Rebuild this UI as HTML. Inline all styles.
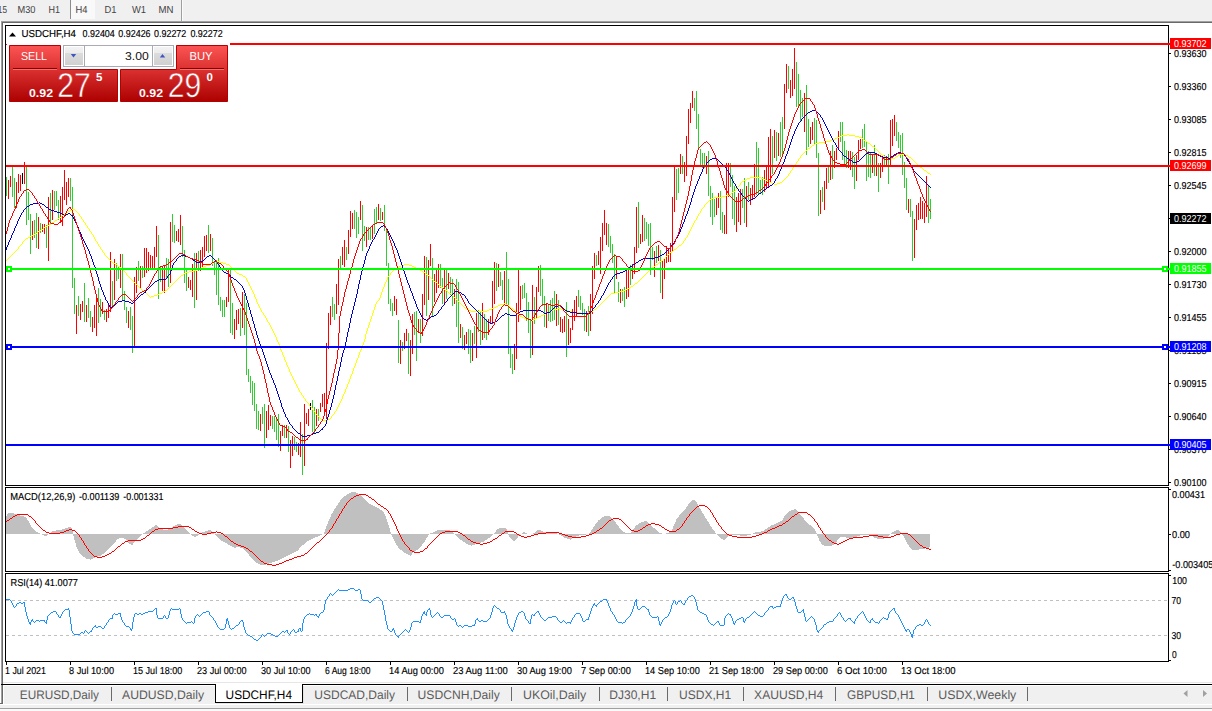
<!DOCTYPE html>
<html><head><meta charset="utf-8"><title>USDCHF,H4</title>
<style>html,body{margin:0;padding:0;background:#fff;overflow:hidden}svg text{font-family:'Liberation Sans', Arial, sans-serif;white-space:pre}</style>
</head><body>
<svg width="1212" height="711" viewBox="0 0 1212 711" font-family="'Liberation Sans', Arial, sans-serif" text-rendering="geometricPrecision" style="display:block">
<defs>
<linearGradient id="gTop" gradientUnits="userSpaceOnUse" x1="0" y1="45" x2="0" y2="70"><stop offset="0" stop-color="#fb5050"/><stop offset="1" stop-color="#e23232"/></linearGradient>
<linearGradient id="gBot" gradientUnits="userSpaceOnUse" x1="0" y1="69" x2="0" y2="102"><stop offset="0" stop-color="#dd2c2c"/><stop offset="1" stop-color="#ad0000"/></linearGradient>
<linearGradient id="gP" gradientUnits="userSpaceOnUse" x1="0" y1="45" x2="0" y2="102"><stop offset="0" stop-color="#fd5555"/><stop offset="1" stop-color="#ac0000"/></linearGradient>
<linearGradient id="gBtn" x1="0" y1="0" x2="0" y2="1"><stop offset="0" stop-color="#f3f3f3"/><stop offset="0.32" stop-color="#ececec"/><stop offset="0.34" stop-color="#dcdcdc"/><stop offset="1" stop-color="#d0d0d0"/></linearGradient>
<clipPath id="cMain"><rect x="6" y="26" width="1162" height="459"/></clipPath>
</defs>
<rect x="0" y="0" width="1212" height="711" fill="#fff" />
<rect x="0" y="0" width="1212" height="21" fill="#f0f0f0" />
<rect x="70" y="0" width="25" height="19" fill="#f9f9f9" />
<rect x="70" y="0" width="1" height="19" fill="#8c8c8c" />
<rect x="181" y="0" width="1" height="21" fill="#a0a0a0" />
<rect x="182" y="0" width="1" height="21" fill="#fbfbfb" />
<text x="-9" y="12.9" font-size="10.2" fill="#444" textLength="16" lengthAdjust="spacingAndGlyphs" >M15</text>
<text x="17.5" y="12.9" font-size="10.2" fill="#444" textLength="18.0" lengthAdjust="spacingAndGlyphs" >M30</text>
<text x="48.5" y="12.9" font-size="10.2" fill="#444" textLength="11.5" lengthAdjust="spacingAndGlyphs" >H1</text>
<text x="75.5" y="12.9" font-size="10.2" fill="#444" textLength="12.0" lengthAdjust="spacingAndGlyphs" >H4</text>
<text x="104.5" y="12.9" font-size="10.2" fill="#444" textLength="12.0" lengthAdjust="spacingAndGlyphs" >D1</text>
<text x="132" y="12.9" font-size="10.2" fill="#444" textLength="14" lengthAdjust="spacingAndGlyphs" >W1</text>
<text x="158.5" y="12.9" font-size="10.2" fill="#444" textLength="15.0" lengthAdjust="spacingAndGlyphs" >MN</text>
<rect x="1" y="21" width="1211" height="1" fill="#a0a0a0" />
<rect x="2" y="22" width="1210" height="1" fill="#696969" />
<rect x="1" y="21" width="1" height="682" fill="#a0a0a0" />
<rect x="2" y="22" width="1" height="681" fill="#696969" />
<rect x="5.5" y="25.5" width="1163" height="460" fill="none" stroke="#000" stroke-width="1" shape-rendering="crispEdges"/>
<rect x="5.5" y="487.5" width="1163" height="84" fill="none" stroke="#000" stroke-width="1" shape-rendering="crispEdges"/>
<rect x="5.5" y="573.5" width="1163" height="88" fill="none" stroke="#000" stroke-width="1" shape-rendering="crispEdges"/>
<g clip-path="url(#cMain)">
<path d="M6 177h1v19h-1zM12 165h1v32h-1zM14 178h1v30h-1zM26 167h1v58h-1zM28 192h1v28h-1zM30 214h1v40h-1zM34 220h1v18h-1zM36 213h1v35h-1zM40 223h1v10h-1zM46 225h1v23h-1zM50 193h1v32h-1zM54 191h1v19h-1zM56 191h1v15h-1zM58 200h1v20h-1zM70 178h1v23h-1zM72 187h1v101h-1zM74 278h1v36h-1zM78 296h1v20h-1zM84 283h1v39h-1zM88 298h1v20h-1zM90 311h1v16h-1zM98 288h1v35h-1zM100 299h1v18h-1zM104 310h1v10h-1zM112 281h1v27h-1zM116 263h1v18h-1zM118 266h1v13h-1zM122 254h1v46h-1zM124 291h1v19h-1zM126 307h1v16h-1zM130 307h1v23h-1zM132 316h1v37h-1zM138 261h1v20h-1zM142 266h1v12h-1zM158 235h1v64h-1zM160 266h1v16h-1zM166 258h1v21h-1zM168 259h1v28h-1zM172 214h1v28h-1zM174 225h1v18h-1zM182 226h1v31h-1zM184 250h1v33h-1zM186 268h1v23h-1zM194 253h1v55h-1zM198 251h1v20h-1zM208 225h1v28h-1zM212 238h1v28h-1zM214 262h1v13h-1zM216 260h1v35h-1zM218 258h1v47h-1zM220 297h1v14h-1zM222 300h1v17h-1zM224 300h1v17h-1zM230 269h1v64h-1zM232 303h1v32h-1zM240 308h1v28h-1zM244 294h1v41h-1zM246 303h1v72h-1zM248 369h1v13h-1zM250 376h1v17h-1zM252 381h1v24h-1zM254 383h1v28h-1zM256 404h1v25h-1zM258 411h1v19h-1zM262 407h1v17h-1zM264 404h1v44h-1zM272 416h1v13h-1zM274 416h1v16h-1zM276 418h1v22h-1zM278 414h1v33h-1zM284 425h1v13h-1zM288 426h1v26h-1zM294 437h1v13h-1zM296 442h1v10h-1zM302 434h1v41h-1zM312 400h1v32h-1zM314 407h1v27h-1zM318 409h1v12h-1zM332 297h1v20h-1zM334 304h1v16h-1zM340 256h1v12h-1zM346 247h1v13h-1zM354 210h1v19h-1zM356 212h1v26h-1zM358 217h1v17h-1zM362 205h1v46h-1zM364 226h1v15h-1zM368 227h1v13h-1zM370 228h1v12h-1zM374 209h1v25h-1zM376 207h1v16h-1zM380 208h1v13h-1zM384 205h1v26h-1zM386 228h1v38h-1zM388 263h1v41h-1zM390 299h1v12h-1zM392 303h1v13h-1zM398 320h1v43h-1zM402 342h1v9h-1zM408 333h1v41h-1zM414 312h1v23h-1zM416 311h1v50h-1zM420 319h1v24h-1zM426 257h1v59h-1zM432 258h1v58h-1zM440 264h1v24h-1zM442 278h1v26h-1zM446 269h1v30h-1zM450 277h1v18h-1zM452 279h1v27h-1zM456 279h1v48h-1zM458 282h1v61h-1zM462 327h1v22h-1zM468 329h1v25h-1zM470 330h1v33h-1zM474 326h1v18h-1zM478 310h1v22h-1zM480 311h1v34h-1zM484 314h1v24h-1zM486 319h1v21h-1zM496 263h1v28h-1zM500 272h1v14h-1zM502 280h1v20h-1zM506 252h1v53h-1zM508 279h1v75h-1zM510 347h1v21h-1zM512 354h1v20h-1zM522 285h1v14h-1zM524 283h1v15h-1zM526 293h1v28h-1zM528 302h1v31h-1zM530 319h1v39h-1zM534 297h1v27h-1zM540 265h1v31h-1zM542 279h1v27h-1zM544 296h1v31h-1zM548 305h1v16h-1zM550 300h1v22h-1zM552 298h1v23h-1zM554 291h1v29h-1zM558 300h1v25h-1zM566 302h1v55h-1zM578 290h1v17h-1zM580 296h1v14h-1zM582 303h1v12h-1zM584 309h1v22h-1zM588 306h1v30h-1zM596 255h1v11h-1zM608 224h1v23h-1zM610 236h1v17h-1zM612 244h1v19h-1zM614 254h1v40h-1zM618 282h1v20h-1zM622 289h1v12h-1zM624 287h1v20h-1zM630 265h1v20h-1zM638 202h1v46h-1zM644 218h1v23h-1zM646 222h1v17h-1zM648 224h1v22h-1zM650 223h1v52h-1zM652 247h1v13h-1zM656 246h1v17h-1zM660 250h1v43h-1zM676 169h1v31h-1zM678 168h1v25h-1zM682 156h1v18h-1zM694 98h1v13h-1zM696 91h1v38h-1zM698 114h1v36h-1zM700 149h1v17h-1zM702 153h1v15h-1zM704 153h1v15h-1zM708 151h1v45h-1zM710 186h1v31h-1zM712 193h1v32h-1zM714 199h1v18h-1zM720 191h1v39h-1zM722 212h1v21h-1zM730 163h1v24h-1zM732 175h1v44h-1zM734 186h1v39h-1zM742 189h1v19h-1zM744 178h1v45h-1zM748 182h1v18h-1zM756 142h1v53h-1zM758 148h1v47h-1zM760 180h1v14h-1zM762 177h1v18h-1zM772 136h1v38h-1zM776 132h1v29h-1zM780 122h1v35h-1zM782 117h1v37h-1zM788 66h1v23h-1zM796 62h1v45h-1zM798 74h1v34h-1zM800 90h1v31h-1zM802 98h1v19h-1zM806 85h1v70h-1zM808 119h1v28h-1zM814 118h1v26h-1zM816 120h1v38h-1zM818 153h1v63h-1zM822 187h1v15h-1zM828 167h1v16h-1zM832 145h1v34h-1zM840 122h1v20h-1zM842 122h1v38h-1zM844 141h1v26h-1zM846 150h1v18h-1zM852 152h1v25h-1zM854 157h1v32h-1zM862 129h1v19h-1zM864 124h1v23h-1zM866 141h1v40h-1zM868 151h1v26h-1zM870 153h1v25h-1zM874 145h1v31h-1zM878 163h1v29h-1zM884 155h1v11h-1zM888 154h1v30h-1zM896 122h1v19h-1zM898 132h1v16h-1zM900 135h1v23h-1zM902 133h1v42h-1zM904 162h1v26h-1zM906 178h1v32h-1zM910 199h1v18h-1zM912 211h1v50h-1zM928 185h1v38h-1zM930 199h1v20h-1z" fill="#32cd32" shape-rendering="crispEdges"/>
<path d="M8 180h1v19h-1zM10 176h1v11h-1zM16 182h1v26h-1zM18 174h1v19h-1zM20 175h1v16h-1zM24 162h1v22h-1zM32 221h1v19h-1zM38 217h1v32h-1zM42 224h1v8h-1zM44 224h1v10h-1zM48 197h1v64h-1zM52 190h1v30h-1zM60 196h1v26h-1zM62 187h1v39h-1zM64 170h1v30h-1zM66 182h1v23h-1zM68 178h1v19h-1zM76 305h1v29h-1zM80 304h1v16h-1zM82 301h1v11h-1zM86 305h1v17h-1zM92 317h1v15h-1zM94 305h1v23h-1zM96 297h1v39h-1zM102 302h1v12h-1zM106 309h1v13h-1zM108 305h1v13h-1zM110 252h1v60h-1zM114 259h1v41h-1zM120 254h1v34h-1zM128 311h1v17h-1zM134 277h1v71h-1zM136 267h1v26h-1zM140 266h1v22h-1zM144 248h1v29h-1zM146 248h1v25h-1zM148 252h1v19h-1zM150 255h1v15h-1zM152 256h1v14h-1zM154 247h1v21h-1zM156 226h1v31h-1zM162 267h1v24h-1zM164 265h1v28h-1zM170 222h1v61h-1zM176 231h1v10h-1zM178 229h1v13h-1zM180 215h1v30h-1zM188 277h1v11h-1zM190 280h1v10h-1zM192 264h1v33h-1zM196 253h1v47h-1zM200 250h1v21h-1zM202 247h1v20h-1zM204 236h1v21h-1zM206 235h1v16h-1zM210 234h1v17h-1zM226 297h1v10h-1zM228 268h1v34h-1zM234 319h1v20h-1zM236 310h1v20h-1zM238 309h1v15h-1zM242 292h1v36h-1zM260 414h1v17h-1zM266 411h1v27h-1zM268 405h1v25h-1zM270 415h1v11h-1zM280 431h1v20h-1zM282 425h1v11h-1zM286 425h1v13h-1zM290 440h1v28h-1zM292 436h1v20h-1zM298 443h1v12h-1zM300 422h1v35h-1zM304 404h1v62h-1zM306 413h1v11h-1zM308 409h1v17h-1zM316 409h1v17h-1zM320 403h1v9h-1zM322 394h1v13h-1zM324 393h1v21h-1zM326 343h1v76h-1zM328 313h1v36h-1zM330 306h1v19h-1zM336 284h1v30h-1zM338 259h1v46h-1zM342 247h1v18h-1zM344 240h1v27h-1zM348 230h1v24h-1zM350 211h1v26h-1zM352 213h1v16h-1zM360 201h1v19h-1zM366 227h1v20h-1zM372 225h1v14h-1zM378 204h1v16h-1zM382 212h1v8h-1zM394 296h1v15h-1zM396 299h1v16h-1zM400 340h1v24h-1zM404 333h1v16h-1zM406 329h1v12h-1zM410 340h1v36h-1zM412 314h1v40h-1zM418 319h1v14h-1zM422 294h1v42h-1zM424 256h1v49h-1zM428 260h1v40h-1zM430 244h1v22h-1zM434 274h1v28h-1zM436 268h1v25h-1zM438 264h1v24h-1zM444 269h1v35h-1zM448 273h1v16h-1zM454 289h1v15h-1zM460 324h1v14h-1zM464 335h1v15h-1zM466 332h1v12h-1zM472 333h1v28h-1zM476 313h1v45h-1zM482 303h1v37h-1zM488 319h1v16h-1zM490 316h1v8h-1zM492 281h1v43h-1zM494 262h1v42h-1zM498 264h1v23h-1zM504 271h1v34h-1zM514 344h1v26h-1zM516 303h1v56h-1zM518 270h1v52h-1zM520 286h1v24h-1zM532 285h1v70h-1zM536 287h1v31h-1zM538 266h1v26h-1zM546 303h1v25h-1zM556 294h1v32h-1zM560 317h1v15h-1zM562 319h1v14h-1zM564 316h1v16h-1zM568 319h1v26h-1zM570 328h1v15h-1zM572 309h1v21h-1zM574 300h1v21h-1zM576 296h1v20h-1zM586 311h1v21h-1zM590 294h1v37h-1zM592 266h1v48h-1zM594 253h1v26h-1zM598 251h1v14h-1zM600 237h1v37h-1zM602 223h1v28h-1zM604 210h1v25h-1zM606 223h1v22h-1zM616 257h1v22h-1zM620 289h1v14h-1zM626 271h1v28h-1zM628 270h1v27h-1zM632 264h1v15h-1zM634 247h1v27h-1zM636 207h1v46h-1zM640 234h1v10h-1zM642 215h1v27h-1zM654 251h1v26h-1zM658 245h1v16h-1zM662 260h1v39h-1zM664 258h1v21h-1zM666 246h1v17h-1zM668 250h1v12h-1zM670 243h1v19h-1zM672 197h1v55h-1zM674 167h1v45h-1zM680 154h1v20h-1zM684 162h1v20h-1zM686 136h1v40h-1zM688 109h1v35h-1zM690 103h1v20h-1zM692 91h1v17h-1zM706 156h1v18h-1zM716 197h1v18h-1zM718 193h1v15h-1zM724 215h1v19h-1zM726 163h1v71h-1zM728 163h1v34h-1zM736 197h1v35h-1zM738 193h1v29h-1zM740 189h1v36h-1zM746 186h1v41h-1zM750 188h1v17h-1zM752 185h1v14h-1zM754 164h1v33h-1zM764 170h1v22h-1zM766 165h1v24h-1zM768 137h1v50h-1zM770 129h1v53h-1zM774 130h1v28h-1zM778 133h1v23h-1zM784 84h1v45h-1zM786 64h1v29h-1zM790 80h1v18h-1zM792 69h1v27h-1zM794 48h1v41h-1zM804 93h1v39h-1zM810 127h1v17h-1zM812 122h1v18h-1zM820 190h1v24h-1zM824 181h1v29h-1zM826 168h1v21h-1zM830 151h1v29h-1zM834 151h1v17h-1zM836 148h1v12h-1zM838 131h1v19h-1zM848 151h1v17h-1zM850 151h1v19h-1zM856 155h1v26h-1zM858 140h1v20h-1zM860 139h1v10h-1zM872 154h1v19h-1zM876 153h1v23h-1zM880 163h1v15h-1zM882 156h1v16h-1zM886 156h1v11h-1zM890 120h1v46h-1zM892 119h1v27h-1zM894 115h1v21h-1zM908 199h1v14h-1zM914 219h1v39h-1zM916 205h1v25h-1zM918 203h1v17h-1zM920 197h1v22h-1zM922 201h1v18h-1zM924 203h1v20h-1zM926 176h1v41h-1z" fill="#ff0000" shape-rendering="crispEdges"/>
<path d="M22 173h1v11h-1zM310 403h1v7h-1z" fill="#000000" shape-rendering="crispEdges"/>
<path d="M6 260h1v1h-1zM7 259h1v1h-1zM8 258h1v1h-1zM9 257h1v1h-1zM10 256h1v1h-1zM11 255h1v1h-1zM12 254h1v1h-1zM13 253h1v1h-1zM14 252h1v1h-1zM15 251h1v1h-1zM16 250h1v1h-1zM17 249h1v1h-1zM18 247h1v2h-1zM19 246h1v1h-1zM20 245h1v1h-1zM21 244h1v1h-1zM22 242h1v2h-1zM23 241h1v1h-1zM24 240h1v1h-1zM25 239h1v1h-1zM26 238h1v1h-1zM27 238h1v1h-1zM28 237h1v1h-1zM29 237h1v1h-1zM30 236h1v1h-1zM31 236h1v1h-1zM32 235h1v1h-1zM33 235h1v1h-1zM34 234h1v1h-1zM35 233h1v1h-1zM36 233h1v1h-1zM37 232h1v1h-1zM38 231h1v1h-1zM39 231h1v1h-1zM40 230h1v1h-1zM41 229h1v1h-1zM42 229h1v1h-1zM43 228h1v1h-1zM44 227h1v1h-1zM45 227h1v1h-1zM46 226h1v1h-1zM47 225h1v1h-1zM48 225h1v1h-1zM49 224h1v1h-1zM50 224h1v1h-1zM51 223h1v1h-1zM52 222h1v1h-1zM53 222h1v1h-1zM54 221h1v1h-1zM55 220h1v1h-1zM56 220h1v1h-1zM57 219h1v1h-1zM58 218h1v1h-1zM59 217h1v1h-1zM60 217h1v1h-1zM61 216h1v1h-1zM62 215h1v1h-1zM63 215h1v1h-1zM64 214h1v1h-1zM65 213h1v1h-1zM66 213h1v1h-1zM67 212h1v1h-1zM68 211h1v1h-1zM69 211h1v1h-1zM70 210h1v1h-1zM71 210h1v1h-1zM72 209h1v1h-1zM73 209h1v1h-1zM74 209h1v1h-1zM75 210h1v1h-1zM76 211h1v1h-1zM77 212h1v1h-1zM78 213h1v1h-1zM79 214h1v2h-1zM80 216h1v1h-1zM81 217h1v2h-1zM82 219h1v1h-1zM83 220h1v2h-1zM84 222h1v1h-1zM85 223h1v2h-1zM86 225h1v1h-1zM87 226h1v2h-1zM88 228h1v1h-1zM89 229h1v2h-1zM90 231h1v1h-1zM91 232h1v2h-1zM92 234h1v1h-1zM93 235h1v2h-1zM94 237h1v2h-1zM95 239h1v2h-1zM96 241h1v1h-1zM97 242h1v2h-1zM98 244h1v2h-1zM99 246h1v1h-1zM100 247h1v2h-1zM101 249h1v1h-1zM102 250h1v2h-1zM103 252h1v1h-1zM104 253h1v2h-1zM105 255h1v1h-1zM106 256h1v1h-1zM107 257h1v1h-1zM108 258h1v1h-1zM109 259h1v1h-1zM110 260h1v1h-1zM111 261h1v1h-1zM112 262h1v1h-1zM113 263h1v1h-1zM114 263h1v1h-1zM115 264h1v1h-1zM116 264h1v1h-1zM117 265h1v1h-1zM118 266h1v1h-1zM119 266h1v1h-1zM120 267h1v1h-1zM121 268h1v1h-1zM122 269h1v1h-1zM123 270h1v1h-1zM124 271h1v1h-1zM125 272h1v1h-1zM126 273h1v2h-1zM127 275h1v1h-1zM128 276h1v1h-1zM129 277h1v1h-1zM130 278h1v1h-1zM131 279h1v1h-1zM132 280h1v1h-1zM133 281h1v1h-1zM134 282h1v1h-1zM135 283h1v1h-1zM136 284h1v1h-1zM137 285h1v1h-1zM138 286h1v1h-1zM139 287h1v1h-1zM140 288h1v1h-1zM141 289h1v1h-1zM142 290h1v1h-1zM143 291h1v1h-1zM144 291h1v1h-1zM145 292h1v1h-1zM146 293h1v1h-1zM147 294h1v1h-1zM148 295h1v1h-1zM149 296h1v1h-1zM150 297h1v1h-1zM151 296h1v1h-1zM152 296h1v1h-1zM153 296h1v1h-1zM154 295h1v1h-1zM155 295h1v1h-1zM156 295h1v1h-1zM157 294h1v1h-1zM158 294h1v1h-1zM159 293h1v1h-1zM160 293h1v1h-1zM161 293h1v1h-1zM162 292h1v1h-1zM163 291h1v1h-1zM164 291h1v1h-1zM165 290h1v1h-1zM166 290h1v1h-1zM167 289h1v1h-1zM168 288h1v1h-1zM169 287h1v1h-1zM170 286h1v1h-1zM171 285h1v1h-1zM172 284h1v1h-1zM173 283h1v1h-1zM174 282h1v1h-1zM175 281h1v1h-1zM176 280h1v1h-1zM177 279h1v1h-1zM178 278h1v1h-1zM179 277h1v1h-1zM180 276h1v1h-1zM181 275h1v1h-1zM182 275h1v1h-1zM183 274h1v1h-1zM184 273h1v1h-1zM185 273h1v1h-1zM186 272h1v1h-1zM187 272h1v1h-1zM188 272h1v1h-1zM189 271h1v1h-1zM190 271h1v1h-1zM191 271h1v1h-1zM192 271h1v1h-1zM193 271h1v1h-1zM194 270h1v1h-1zM195 270h1v1h-1zM196 270h1v1h-1zM197 269h1v1h-1zM198 269h1v1h-1zM199 269h1v1h-1zM200 268h1v1h-1zM201 268h1v1h-1zM202 267h1v1h-1zM203 267h1v1h-1zM204 266h1v1h-1zM205 266h1v1h-1zM206 265h1v1h-1zM207 265h1v1h-1zM208 265h1v1h-1zM209 265h1v1h-1zM210 264h1v1h-1zM211 263h1v1h-1zM212 263h1v1h-1zM213 262h1v1h-1zM214 261h1v1h-1zM215 261h1v1h-1zM216 261h1v1h-1zM217 261h1v1h-1zM218 261h1v1h-1zM219 261h1v1h-1zM220 262h1v1h-1zM221 262h1v1h-1zM222 262h1v1h-1zM223 263h1v1h-1zM224 263h1v1h-1zM225 263h1v1h-1zM226 264h1v1h-1zM227 264h1v1h-1zM228 264h1v1h-1zM229 265h1v1h-1zM230 266h1v1h-1zM231 267h1v1h-1zM232 268h1v1h-1zM233 269h1v1h-1zM234 270h1v1h-1zM235 271h1v1h-1zM236 272h1v1h-1zM237 273h1v1h-1zM238 273h1v1h-1zM239 274h1v1h-1zM240 274h1v1h-1zM241 274h1v1h-1zM242 275h1v1h-1zM243 276h1v1h-1zM244 276h1v1h-1zM245 277h1v1h-1zM246 278h1v2h-1zM247 280h1v2h-1zM248 282h1v2h-1zM249 284h1v2h-1zM250 286h1v2h-1zM251 288h1v2h-1zM252 290h1v2h-1zM253 292h1v2h-1zM254 294h1v3h-1zM255 297h1v2h-1zM256 299h1v3h-1zM257 302h1v2h-1zM258 304h1v2h-1zM259 306h1v2h-1zM260 308h1v2h-1zM261 310h1v2h-1zM262 312h1v1h-1zM263 313h1v2h-1zM264 315h1v1h-1zM265 316h1v2h-1zM266 318h1v2h-1zM267 320h1v2h-1zM268 322h1v1h-1zM269 323h1v2h-1zM270 325h1v2h-1zM271 327h1v2h-1zM272 329h1v2h-1zM273 331h1v2h-1zM274 333h1v2h-1zM275 335h1v2h-1zM276 337h1v3h-1zM277 340h1v2h-1zM278 342h1v2h-1zM279 344h1v3h-1zM280 347h1v3h-1zM281 350h1v2h-1zM282 352h1v3h-1zM283 355h1v2h-1zM284 357h1v3h-1zM285 360h1v2h-1zM286 362h1v3h-1zM287 365h1v2h-1zM288 367h1v2h-1zM289 369h1v3h-1zM290 372h1v2h-1zM291 374h1v2h-1zM292 376h1v2h-1zM293 378h1v2h-1zM294 380h1v2h-1zM295 382h1v2h-1zM296 384h1v2h-1zM297 386h1v2h-1zM298 388h1v2h-1zM299 390h1v2h-1zM300 392h1v1h-1zM301 393h1v2h-1zM302 395h1v1h-1zM303 396h1v2h-1zM304 398h1v1h-1zM305 399h1v2h-1zM306 401h1v1h-1zM307 402h1v1h-1zM308 403h1v1h-1zM309 404h1v2h-1zM310 406h1v1h-1zM311 407h1v1h-1zM312 408h1v2h-1zM313 410h1v1h-1zM314 411h1v1h-1zM315 412h1v2h-1zM316 414h1v1h-1zM317 415h1v1h-1zM318 416h1v1h-1zM319 417h1v1h-1zM320 418h1v1h-1zM321 419h1v1h-1zM322 420h1v1h-1zM323 420h1v1h-1zM324 420h1v1h-1zM325 420h1v1h-1zM326 420h1v1h-1zM327 420h1v1h-1zM328 419h1v1h-1zM329 419h1v1h-1zM330 418h1v1h-1zM331 416h1v2h-1zM332 415h1v1h-1zM333 414h1v1h-1zM334 412h1v2h-1zM335 411h1v1h-1zM336 409h1v2h-1zM337 407h1v2h-1zM338 405h1v2h-1zM339 403h1v2h-1zM340 401h1v2h-1zM341 399h1v2h-1zM342 396h1v3h-1zM343 394h1v2h-1zM344 392h1v2h-1zM345 389h1v3h-1zM346 387h1v2h-1zM347 384h1v3h-1zM348 382h1v2h-1zM349 379h1v3h-1zM350 376h1v3h-1zM351 374h1v2h-1zM352 371h1v3h-1zM353 368h1v3h-1zM354 366h1v2h-1zM355 363h1v3h-1zM356 360h1v3h-1zM357 358h1v2h-1zM358 355h1v3h-1zM359 352h1v3h-1zM360 350h1v2h-1zM361 347h1v3h-1zM362 345h1v2h-1zM363 342h1v3h-1zM364 339h1v3h-1zM365 334h1v5h-1zM366 331h1v3h-1zM367 328h1v3h-1zM368 325h1v3h-1zM369 322h1v3h-1zM370 319h1v3h-1zM371 316h1v3h-1zM372 313h1v3h-1zM373 310h1v3h-1zM374 307h1v3h-1zM375 304h1v3h-1zM376 302h1v2h-1zM377 301h1v1h-1zM378 300h1v1h-1zM379 298h1v2h-1zM380 295h1v3h-1zM381 292h1v3h-1zM382 289h1v3h-1zM383 287h1v2h-1zM384 284h1v3h-1zM385 282h1v2h-1zM386 280h1v2h-1zM387 277h1v3h-1zM388 276h1v1h-1zM389 275h1v1h-1zM390 273h1v2h-1zM391 272h1v1h-1zM392 271h1v1h-1zM393 270h1v1h-1zM394 269h1v1h-1zM395 269h1v1h-1zM396 268h1v1h-1zM397 267h1v1h-1zM398 267h1v1h-1zM399 266h1v1h-1zM400 266h1v1h-1zM401 265h1v1h-1zM402 265h1v1h-1zM403 265h1v1h-1zM404 264h1v1h-1zM405 264h1v1h-1zM406 264h1v1h-1zM407 264h1v1h-1zM408 264h1v1h-1zM409 265h1v1h-1zM410 265h1v1h-1zM411 265h1v1h-1zM412 266h1v1h-1zM413 266h1v1h-1zM414 267h1v1h-1zM415 267h1v1h-1zM416 268h1v1h-1zM417 268h1v1h-1zM418 269h1v1h-1zM419 269h1v1h-1zM420 270h1v1h-1zM421 270h1v1h-1zM422 271h1v1h-1zM423 272h1v1h-1zM424 272h1v1h-1zM425 273h1v1h-1zM426 274h1v1h-1zM427 275h1v1h-1zM428 275h1v1h-1zM429 276h1v1h-1zM430 277h1v1h-1zM431 278h1v1h-1zM432 279h1v1h-1zM433 280h1v1h-1zM434 281h1v1h-1zM435 281h1v1h-1zM436 282h1v1h-1zM437 283h1v1h-1zM438 284h1v1h-1zM439 285h1v1h-1zM440 286h1v1h-1zM441 287h1v1h-1zM442 287h1v1h-1zM443 288h1v1h-1zM444 289h1v1h-1zM445 290h1v1h-1zM446 290h1v1h-1zM447 291h1v1h-1zM448 292h1v1h-1zM449 293h1v1h-1zM450 293h1v1h-1zM451 294h1v1h-1zM452 295h1v1h-1zM453 296h1v1h-1zM454 297h1v1h-1zM455 298h1v1h-1zM456 299h1v1h-1zM457 300h1v1h-1zM458 301h1v1h-1zM459 302h1v1h-1zM460 303h1v1h-1zM461 304h1v1h-1zM462 305h1v1h-1zM463 306h1v1h-1zM464 307h1v1h-1zM465 308h1v1h-1zM466 308h1v1h-1zM467 309h1v1h-1zM468 309h1v1h-1zM469 310h1v1h-1zM470 310h1v1h-1zM471 311h1v1h-1zM472 311h1v1h-1zM473 311h1v1h-1zM474 311h1v1h-1zM475 311h1v1h-1zM476 311h1v1h-1zM477 311h1v1h-1zM478 311h1v1h-1zM479 311h1v1h-1zM480 311h1v1h-1zM481 311h1v1h-1zM482 311h1v1h-1zM483 311h1v1h-1zM484 311h1v1h-1zM485 311h1v1h-1zM486 311h1v1h-1zM487 310h1v1h-1zM488 310h1v1h-1zM489 309h1v1h-1zM490 309h1v1h-1zM491 309h1v1h-1zM492 308h1v1h-1zM493 308h1v1h-1zM494 307h1v1h-1zM495 307h1v1h-1zM496 306h1v1h-1zM497 306h1v1h-1zM498 305h1v1h-1zM499 305h1v1h-1zM500 304h1v1h-1zM501 304h1v1h-1zM502 304h1v1h-1zM503 304h1v1h-1zM504 303h1v1h-1zM505 303h1v1h-1zM506 304h1v1h-1zM507 305h1v1h-1zM508 305h1v1h-1zM509 306h1v1h-1zM510 307h1v1h-1zM511 308h1v1h-1zM512 308h1v1h-1zM513 309h1v1h-1zM514 310h1v1h-1zM515 311h1v1h-1zM516 312h1v1h-1zM517 313h1v1h-1zM518 314h1v1h-1zM519 315h1v1h-1zM520 316h1v1h-1zM521 316h1v1h-1zM522 317h1v1h-1zM523 317h1v1h-1zM524 318h1v1h-1zM525 318h1v1h-1zM526 318h1v1h-1zM527 319h1v1h-1zM528 319h1v1h-1zM529 319h1v1h-1zM530 319h1v1h-1zM531 320h1v1h-1zM532 320h1v1h-1zM533 319h1v1h-1zM534 319h1v1h-1zM535 318h1v1h-1zM536 318h1v1h-1zM537 317h1v1h-1zM538 317h1v1h-1zM539 316h1v1h-1zM540 316h1v1h-1zM541 315h1v1h-1zM542 315h1v1h-1zM543 314h1v1h-1zM544 314h1v1h-1zM545 313h1v1h-1zM546 313h1v1h-1zM547 312h1v1h-1zM548 312h1v1h-1zM549 311h1v1h-1zM550 311h1v1h-1zM551 310h1v1h-1zM552 310h1v1h-1zM553 309h1v1h-1zM554 309h1v1h-1zM555 309h1v1h-1zM556 309h1v1h-1zM557 308h1v1h-1zM558 308h1v1h-1zM559 308h1v1h-1zM560 308h1v1h-1zM561 309h1v1h-1zM562 309h1v1h-1zM563 309h1v1h-1zM564 309h1v1h-1zM565 309h1v1h-1zM566 310h1v1h-1zM567 310h1v1h-1zM568 310h1v1h-1zM569 311h1v1h-1zM570 311h1v1h-1zM571 311h1v1h-1zM572 312h1v1h-1zM573 312h1v1h-1zM574 312h1v1h-1zM575 312h1v1h-1zM576 312h1v1h-1zM577 312h1v1h-1zM578 312h1v1h-1zM579 312h1v1h-1zM580 312h1v1h-1zM581 313h1v1h-1zM582 313h1v1h-1zM583 313h1v1h-1zM584 313h1v1h-1zM585 313h1v1h-1zM586 313h1v1h-1zM587 313h1v1h-1zM588 312h1v1h-1zM589 312h1v1h-1zM590 312h1v1h-1zM591 312h1v1h-1zM592 311h1v1h-1zM593 310h1v1h-1zM594 309h1v1h-1zM595 309h1v1h-1zM596 308h1v1h-1zM597 307h1v1h-1zM598 306h1v1h-1zM599 305h1v1h-1zM600 304h1v1h-1zM601 303h1v1h-1zM602 302h1v1h-1zM603 301h1v1h-1zM604 300h1v1h-1zM605 299h1v1h-1zM606 298h1v1h-1zM607 297h1v1h-1zM608 296h1v1h-1zM609 295h1v1h-1zM610 294h1v1h-1zM611 293h1v1h-1zM612 293h1v1h-1zM613 293h1v1h-1zM614 293h1v1h-1zM615 292h1v1h-1zM616 292h1v1h-1zM617 292h1v1h-1zM618 292h1v1h-1zM619 291h1v1h-1zM620 291h1v1h-1zM621 291h1v1h-1zM622 291h1v1h-1zM623 290h1v1h-1zM624 290h1v1h-1zM625 290h1v1h-1zM626 289h1v1h-1zM627 289h1v1h-1zM628 288h1v1h-1zM629 288h1v1h-1zM630 287h1v1h-1zM631 286h1v1h-1zM632 286h1v1h-1zM633 285h1v1h-1zM634 284h1v1h-1zM635 283h1v1h-1zM636 283h1v1h-1zM637 282h1v1h-1zM638 281h1v1h-1zM639 280h1v1h-1zM640 279h1v1h-1zM641 278h1v1h-1zM642 277h1v1h-1zM643 276h1v1h-1zM644 275h1v1h-1zM645 274h1v1h-1zM646 273h1v1h-1zM647 272h1v1h-1zM648 271h1v1h-1zM649 270h1v1h-1zM650 269h1v1h-1zM651 268h1v1h-1zM652 267h1v1h-1zM653 267h1v1h-1zM654 266h1v1h-1zM655 265h1v1h-1zM656 264h1v1h-1zM657 264h1v1h-1zM658 263h1v1h-1zM659 262h1v1h-1zM660 261h1v1h-1zM661 261h1v1h-1zM662 260h1v1h-1zM663 259h1v1h-1zM664 258h1v1h-1zM665 257h1v1h-1zM666 256h1v1h-1zM667 255h1v1h-1zM668 254h1v1h-1zM669 253h1v1h-1zM670 252h1v1h-1zM671 252h1v1h-1zM672 251h1v1h-1zM673 250h1v1h-1zM674 249h1v1h-1zM675 249h1v1h-1zM676 248h1v1h-1zM677 247h1v1h-1zM678 246h1v1h-1zM679 245h1v1h-1zM680 245h1v1h-1zM681 244h1v1h-1zM682 243h1v1h-1zM683 241h1v2h-1zM684 240h1v1h-1zM685 238h1v2h-1zM686 237h1v1h-1zM687 235h1v2h-1zM688 233h1v2h-1zM689 231h1v2h-1zM690 229h1v2h-1zM691 227h1v2h-1zM692 225h1v2h-1zM693 223h1v2h-1zM694 221h1v2h-1zM695 220h1v1h-1zM696 218h1v2h-1zM697 216h1v2h-1zM698 214h1v2h-1zM699 213h1v1h-1zM700 211h1v2h-1zM701 209h1v2h-1zM702 208h1v1h-1zM703 207h1v1h-1zM704 205h1v2h-1zM705 204h1v1h-1zM706 203h1v1h-1zM707 202h1v1h-1zM708 201h1v1h-1zM709 200h1v1h-1zM710 199h1v1h-1zM711 199h1v1h-1zM712 198h1v1h-1zM713 198h1v1h-1zM714 197h1v1h-1zM715 197h1v1h-1zM716 197h1v1h-1zM717 197h1v1h-1zM718 197h1v1h-1zM719 197h1v1h-1zM720 197h1v1h-1zM721 197h1v1h-1zM722 196h1v1h-1zM723 196h1v1h-1zM724 196h1v1h-1zM725 196h1v1h-1zM726 195h1v1h-1zM727 195h1v1h-1zM728 195h1v1h-1zM729 194h1v1h-1zM730 194h1v1h-1zM731 193h1v1h-1zM732 192h1v1h-1zM733 191h1v1h-1zM734 191h1v1h-1zM735 190h1v1h-1zM736 188h1v2h-1zM737 187h1v1h-1zM738 186h1v1h-1zM739 185h1v1h-1zM740 183h1v2h-1zM741 182h1v1h-1zM742 181h1v1h-1zM743 181h1v1h-1zM744 180h1v1h-1zM745 180h1v1h-1zM746 179h1v1h-1zM747 178h1v1h-1zM748 178h1v1h-1zM749 178h1v1h-1zM750 177h1v1h-1zM751 177h1v1h-1zM752 177h1v1h-1zM753 177h1v1h-1zM754 177h1v1h-1zM755 177h1v1h-1zM756 177h1v1h-1zM757 177h1v1h-1zM758 177h1v1h-1zM759 177h1v1h-1zM760 177h1v1h-1zM761 178h1v1h-1zM762 178h1v1h-1zM763 178h1v1h-1zM764 179h1v1h-1zM765 179h1v1h-1zM766 180h1v1h-1zM767 180h1v1h-1zM768 181h1v1h-1zM769 181h1v1h-1zM770 182h1v1h-1zM771 182h1v1h-1zM772 183h1v1h-1zM773 183h1v1h-1zM774 184h1v1h-1zM775 184h1v1h-1zM776 184h1v1h-1zM777 183h1v1h-1zM778 183h1v1h-1zM779 183h1v1h-1zM780 182h1v1h-1zM781 182h1v1h-1zM782 181h1v1h-1zM783 180h1v1h-1zM784 179h1v1h-1zM785 178h1v1h-1zM786 177h1v1h-1zM787 176h1v1h-1zM788 174h1v2h-1zM789 173h1v1h-1zM790 171h1v2h-1zM791 170h1v1h-1zM792 168h1v2h-1zM793 167h1v1h-1zM794 165h1v2h-1zM795 164h1v1h-1zM796 162h1v2h-1zM797 161h1v1h-1zM798 159h1v2h-1zM799 158h1v1h-1zM800 156h1v2h-1zM801 155h1v1h-1zM802 154h1v1h-1zM803 153h1v1h-1zM804 152h1v1h-1zM805 151h1v1h-1zM806 150h1v1h-1zM807 149h1v1h-1zM808 148h1v1h-1zM809 148h1v1h-1zM810 147h1v1h-1zM811 146h1v1h-1zM812 145h1v1h-1zM813 145h1v1h-1zM814 144h1v1h-1zM815 143h1v1h-1zM816 143h1v1h-1zM817 143h1v1h-1zM818 143h1v1h-1zM819 142h1v1h-1zM820 142h1v1h-1zM821 142h1v1h-1zM822 142h1v1h-1zM823 142h1v1h-1zM824 142h1v1h-1zM825 142h1v1h-1zM826 141h1v1h-1zM827 141h1v1h-1zM828 141h1v1h-1zM829 141h1v1h-1zM830 140h1v1h-1zM831 140h1v1h-1zM832 140h1v1h-1zM833 139h1v1h-1zM834 139h1v1h-1zM835 138h1v1h-1zM836 138h1v1h-1zM837 137h1v1h-1zM838 137h1v1h-1zM839 136h1v1h-1zM840 136h1v1h-1zM841 135h1v1h-1zM842 135h1v1h-1zM843 135h1v1h-1zM844 135h1v1h-1zM845 135h1v1h-1zM846 135h1v1h-1zM847 134h1v1h-1zM848 134h1v1h-1zM849 135h1v1h-1zM850 135h1v1h-1zM851 135h1v1h-1zM852 135h1v1h-1zM853 135h1v1h-1zM854 135h1v1h-1zM855 136h1v1h-1zM856 136h1v1h-1zM857 136h1v1h-1zM858 136h1v1h-1zM859 137h1v1h-1zM860 137h1v1h-1zM861 137h1v1h-1zM862 138h1v1h-1zM863 139h1v1h-1zM864 140h1v1h-1zM865 140h1v1h-1zM866 141h1v1h-1zM867 142h1v1h-1zM868 143h1v1h-1zM869 143h1v1h-1zM870 144h1v1h-1zM871 145h1v1h-1zM872 146h1v1h-1zM873 146h1v1h-1zM874 147h1v1h-1zM875 148h1v1h-1zM876 149h1v1h-1zM877 150h1v1h-1zM878 151h1v1h-1zM879 152h1v1h-1zM880 153h1v1h-1zM881 154h1v1h-1zM882 155h1v1h-1zM883 155h1v1h-1zM884 156h1v1h-1zM885 156h1v1h-1zM886 157h1v1h-1zM887 158h1v1h-1zM888 158h1v1h-1zM889 158h1v1h-1zM890 158h1v1h-1zM891 158h1v1h-1zM892 158h1v1h-1zM893 158h1v1h-1zM894 158h1v1h-1zM895 157h1v1h-1zM896 156h1v1h-1zM897 156h1v1h-1zM898 155h1v1h-1zM899 154h1v1h-1zM900 154h1v1h-1zM901 154h1v1h-1zM902 154h1v1h-1zM903 154h1v1h-1zM904 154h1v1h-1zM905 155h1v1h-1zM906 155h1v1h-1zM907 155h1v1h-1zM908 156h1v1h-1zM909 157h1v1h-1zM910 157h1v1h-1zM911 158h1v1h-1zM912 159h1v1h-1zM913 160h1v1h-1zM914 161h1v1h-1zM915 162h1v1h-1zM916 163h1v1h-1zM917 164h1v1h-1zM918 165h1v1h-1zM919 166h1v1h-1zM920 167h1v1h-1zM921 167h1v1h-1zM922 168h1v1h-1zM923 169h1v1h-1zM924 170h1v1h-1zM925 170h1v1h-1zM926 171h1v1h-1zM927 172h1v1h-1zM928 173h1v1h-1zM929 173h1v1h-1zM930 174h1v1h-1z" fill="#ffff00" shape-rendering="crispEdges"/>
<path d="M6 247h1v3h-1zM7 245h1v2h-1zM8 242h1v3h-1zM9 240h1v2h-1zM10 238h1v2h-1zM11 235h1v3h-1zM12 233h1v2h-1zM13 231h1v2h-1zM14 228h1v3h-1zM15 226h1v2h-1zM16 224h1v2h-1zM17 221h1v3h-1zM18 219h1v2h-1zM19 217h1v2h-1zM20 215h1v2h-1zM21 213h1v2h-1zM22 212h1v1h-1zM23 210h1v2h-1zM24 209h1v1h-1zM25 208h1v1h-1zM26 207h1v1h-1zM27 206h1v1h-1zM28 206h1v1h-1zM29 205h1v1h-1zM30 204h1v1h-1zM31 204h1v1h-1zM32 204h1v1h-1zM33 203h1v1h-1zM34 203h1v1h-1zM35 203h1v1h-1zM36 203h1v1h-1zM37 203h1v1h-1zM38 203h1v1h-1zM39 202h1v1h-1zM40 203h1v1h-1zM41 203h1v1h-1zM42 204h1v1h-1zM43 204h1v1h-1zM44 205h1v1h-1zM45 206h1v1h-1zM46 207h1v1h-1zM47 207h1v1h-1zM48 208h1v1h-1zM49 209h1v1h-1zM50 209h1v1h-1zM51 210h1v1h-1zM52 210h1v1h-1zM53 210h1v1h-1zM54 211h1v1h-1zM55 211h1v1h-1zM56 211h1v1h-1zM57 212h1v1h-1zM58 212h1v1h-1zM59 212h1v1h-1zM60 213h1v1h-1zM61 213h1v1h-1zM62 214h1v1h-1zM63 214h1v1h-1zM64 215h1v1h-1zM65 215h1v1h-1zM66 214h1v1h-1zM67 214h1v1h-1zM68 213h1v1h-1zM69 213h1v1h-1zM70 214h1v1h-1zM71 215h1v1h-1zM72 215h1v2h-1zM73 217h1v2h-1zM74 219h1v2h-1zM75 221h1v2h-1zM76 223h1v2h-1zM77 225h1v2h-1zM78 227h1v3h-1zM79 230h1v2h-1zM80 232h1v2h-1zM81 234h1v3h-1zM82 237h1v2h-1zM83 239h1v2h-1zM84 241h1v2h-1zM85 243h1v2h-1zM86 245h1v2h-1zM87 247h1v2h-1zM88 249h1v2h-1zM89 251h1v3h-1zM90 254h1v2h-1zM91 256h1v3h-1zM92 259h1v3h-1zM93 262h1v3h-1zM94 265h1v2h-1zM95 267h1v4h-1zM96 271h1v3h-1zM97 274h1v3h-1zM98 277h1v4h-1zM99 281h1v3h-1zM100 284h1v3h-1zM101 287h1v3h-1zM102 290h1v2h-1zM103 292h1v3h-1zM104 295h1v2h-1zM105 297h1v3h-1zM106 300h1v1h-1zM107 301h1v2h-1zM108 303h1v2h-1zM109 305h1v2h-1zM110 307h1v1h-1zM111 307h1v1h-1zM112 306h1v1h-1zM113 305h1v1h-1zM114 305h1v1h-1zM115 304h1v1h-1zM116 303h1v1h-1zM117 302h1v1h-1zM118 301h1v1h-1zM119 301h1v1h-1zM120 301h1v1h-1zM121 301h1v1h-1zM122 300h1v1h-1zM123 300h1v1h-1zM124 300h1v1h-1zM125 301h1v1h-1zM126 301h1v1h-1zM127 301h1v1h-1zM128 301h1v1h-1zM129 302h1v1h-1zM130 302h1v1h-1zM131 303h1v1h-1zM132 303h1v1h-1zM133 302h1v1h-1zM134 301h1v1h-1zM135 300h1v1h-1zM136 299h1v1h-1zM137 298h1v1h-1zM138 297h1v1h-1zM139 296h1v1h-1zM140 295h1v1h-1zM141 294h1v1h-1zM142 294h1v1h-1zM143 293h1v1h-1zM144 292h1v1h-1zM145 291h1v2h-1zM146 290h1v1h-1zM147 289h1v1h-1zM148 288h1v1h-1zM149 287h1v1h-1zM150 286h1v1h-1zM151 285h1v1h-1zM152 284h1v1h-1zM153 283h1v1h-1zM154 282h1v1h-1zM155 281h1v1h-1zM156 281h1v1h-1zM157 280h1v1h-1zM158 280h1v1h-1zM159 279h1v1h-1zM160 279h1v1h-1zM161 279h1v1h-1zM162 279h1v1h-1zM163 279h1v1h-1zM164 279h1v1h-1zM165 279h1v1h-1zM166 278h1v1h-1zM167 276h1v2h-1zM168 275h1v1h-1zM169 274h1v1h-1zM170 271h1v3h-1zM171 268h1v3h-1zM172 265h1v3h-1zM173 263h1v2h-1zM174 262h1v1h-1zM175 261h1v1h-1zM176 259h1v2h-1zM177 258h1v1h-1zM178 257h1v1h-1zM179 256h1v1h-1zM180 256h1v1h-1zM181 255h1v1h-1zM182 255h1v1h-1zM183 255h1v1h-1zM184 255h1v1h-1zM185 256h1v1h-1zM186 256h1v1h-1zM187 256h1v1h-1zM188 257h1v1h-1zM189 257h1v1h-1zM190 258h1v1h-1zM191 258h1v1h-1zM192 259h1v1h-1zM193 260h1v1h-1zM194 260h1v1h-1zM195 261h1v1h-1zM196 262h1v1h-1zM197 262h1v1h-1zM198 262h1v1h-1zM199 262h1v1h-1zM200 261h1v1h-1zM201 261h1v1h-1zM202 261h1v1h-1zM203 260h1v1h-1zM204 259h1v1h-1zM205 258h1v1h-1zM206 257h1v1h-1zM207 256h1v1h-1zM208 256h1v1h-1zM209 255h1v1h-1zM210 255h1v1h-1zM211 256h1v1h-1zM212 257h1v1h-1zM213 258h1v1h-1zM214 259h1v1h-1zM215 260h1v1h-1zM216 261h1v1h-1zM217 262h1v2h-1zM218 264h1v1h-1zM219 265h1v2h-1zM220 267h1v1h-1zM221 268h1v2h-1zM222 270h1v1h-1zM223 271h1v1h-1zM224 272h1v1h-1zM225 272h1v1h-1zM226 273h1v1h-1zM227 273h1v1h-1zM228 273h1v1h-1zM229 274h1v1h-1zM230 275h1v2h-1zM231 277h1v1h-1zM232 277h1v1h-1zM233 278h1v1h-1zM234 279h1v1h-1zM235 279h1v1h-1zM236 280h1v1h-1zM237 281h1v1h-1zM238 282h1v1h-1zM239 283h1v1h-1zM240 284h1v1h-1zM241 285h1v1h-1zM242 286h1v2h-1zM243 288h1v2h-1zM244 290h1v3h-1zM245 293h1v3h-1zM246 296h1v4h-1zM247 300h1v3h-1zM248 303h1v4h-1zM249 307h1v3h-1zM250 310h1v4h-1zM251 314h1v3h-1zM252 317h1v4h-1zM253 321h1v3h-1zM254 324h1v4h-1zM255 328h1v3h-1zM256 331h1v4h-1zM257 335h1v3h-1zM258 338h1v3h-1zM259 341h1v3h-1zM260 344h1v2h-1zM261 346h1v3h-1zM262 349h1v3h-1zM263 352h1v3h-1zM264 355h1v3h-1zM265 358h1v3h-1zM266 361h1v3h-1zM267 364h1v3h-1zM268 367h1v3h-1zM269 370h1v3h-1zM270 373h1v2h-1zM271 375h1v3h-1zM272 378h1v2h-1zM273 380h1v3h-1zM274 383h1v2h-1zM275 385h1v3h-1zM276 388h1v3h-1zM277 391h1v3h-1zM278 394h1v3h-1zM279 397h1v3h-1zM280 400h1v3h-1zM281 403h1v4h-1zM282 407h1v2h-1zM283 409h1v3h-1zM284 412h1v2h-1zM285 414h1v3h-1zM286 417h1v1h-1zM287 418h1v2h-1zM288 420h1v2h-1zM289 422h1v2h-1zM290 424h1v1h-1zM291 425h1v1h-1zM292 426h1v2h-1zM293 428h1v1h-1zM294 429h1v1h-1zM295 430h1v1h-1zM296 431h1v1h-1zM297 432h1v1h-1zM298 433h1v1h-1zM299 433h1v1h-1zM300 434h1v1h-1zM301 435h1v1h-1zM302 436h1v1h-1zM303 436h1v1h-1zM304 436h1v1h-1zM305 436h1v1h-1zM306 436h1v1h-1zM307 435h1v1h-1zM308 435h1v1h-1zM309 435h1v1h-1zM310 435h1v1h-1zM311 434h1v1h-1zM312 434h1v1h-1zM313 433h1v1h-1zM314 433h1v1h-1zM315 433h1v1h-1zM316 432h1v1h-1zM317 432h1v1h-1zM318 432h1v1h-1zM319 431h1v1h-1zM320 430h1v1h-1zM321 429h1v1h-1zM322 428h1v2h-1zM323 427h1v1h-1zM324 426h1v1h-1zM325 424h1v2h-1zM326 420h1v4h-1zM327 417h1v3h-1zM328 414h1v3h-1zM329 410h1v4h-1zM330 407h1v3h-1zM331 403h1v4h-1zM332 399h1v4h-1zM333 395h1v4h-1zM334 390h1v5h-1zM335 385h1v5h-1zM336 381h1v4h-1zM337 376h1v5h-1zM338 371h1v5h-1zM339 367h1v4h-1zM340 362h1v5h-1zM341 357h1v5h-1zM342 353h1v4h-1zM343 350h1v3h-1zM344 346h1v4h-1zM345 342h1v4h-1zM346 337h1v5h-1zM347 332h1v5h-1zM348 328h1v4h-1zM349 323h1v5h-1zM350 318h1v5h-1zM351 314h1v4h-1zM352 310h1v4h-1zM353 306h1v4h-1zM354 302h1v4h-1zM355 298h1v4h-1zM356 294h1v4h-1zM357 289h1v5h-1zM358 284h1v5h-1zM359 280h1v4h-1zM360 275h1v5h-1zM361 271h1v4h-1zM362 267h1v4h-1zM363 264h1v3h-1zM364 260h1v4h-1zM365 256h1v4h-1zM366 253h1v3h-1zM367 251h1v2h-1zM368 249h1v2h-1zM369 246h1v3h-1zM370 244h1v2h-1zM371 242h1v2h-1zM372 240h1v2h-1zM373 239h1v1h-1zM374 237h1v2h-1zM375 235h1v2h-1zM376 233h1v2h-1zM377 231h1v2h-1zM378 229h1v2h-1zM379 228h1v1h-1zM380 227h1v1h-1zM381 226h1v1h-1zM382 226h1v1h-1zM383 225h1v1h-1zM384 226h1v1h-1zM385 227h1v1h-1zM386 228h1v1h-1zM387 229h1v2h-1zM388 231h1v2h-1zM389 233h1v2h-1zM390 235h1v2h-1zM391 237h1v2h-1zM392 239h1v2h-1zM393 241h1v2h-1zM394 243h1v3h-1zM395 246h1v2h-1zM396 248h1v2h-1zM397 250h1v3h-1zM398 253h1v3h-1zM399 256h1v3h-1zM400 259h1v3h-1zM401 262h1v3h-1zM402 265h1v3h-1zM403 268h1v3h-1zM404 271h1v3h-1zM405 274h1v3h-1zM406 277h1v3h-1zM407 280h1v3h-1zM408 283h1v2h-1zM409 285h1v3h-1zM410 288h1v3h-1zM411 291h1v2h-1zM412 293h1v3h-1zM413 296h1v3h-1zM414 299h1v2h-1zM415 301h1v3h-1zM416 304h1v3h-1zM417 307h1v2h-1zM418 309h1v2h-1zM419 311h1v2h-1zM420 313h1v2h-1zM421 315h1v2h-1zM422 317h1v1h-1zM423 318h1v1h-1zM424 319h1v1h-1zM425 319h1v1h-1zM426 320h1v1h-1zM427 319h1v1h-1zM428 318h1v1h-1zM429 318h1v1h-1zM430 317h1v1h-1zM431 316h1v1h-1zM432 316h1v1h-1zM433 316h1v1h-1zM434 315h1v1h-1zM435 315h1v1h-1zM436 314h1v1h-1zM437 313h1v1h-1zM438 311h1v2h-1zM439 310h1v1h-1zM440 309h1v1h-1zM441 307h1v2h-1zM442 306h1v1h-1zM443 305h1v1h-1zM444 303h1v2h-1zM445 302h1v1h-1zM446 301h1v1h-1zM447 299h1v2h-1zM448 298h1v1h-1zM449 297h1v1h-1zM450 296h1v1h-1zM451 295h1v1h-1zM452 294h1v1h-1zM453 293h1v1h-1zM454 292h1v1h-1zM455 291h1v1h-1zM456 291h1v1h-1zM457 291h1v1h-1zM458 292h1v1h-1zM459 292h1v1h-1zM460 292h1v1h-1zM461 293h1v1h-1zM462 294h1v1h-1zM463 294h1v1h-1zM464 295h1v1h-1zM465 296h1v2h-1zM466 298h1v1h-1zM467 299h1v2h-1zM468 301h1v2h-1zM469 303h1v1h-1zM470 304h1v1h-1zM471 305h1v1h-1zM472 306h1v1h-1zM473 307h1v1h-1zM474 308h1v1h-1zM475 309h1v1h-1zM476 310h1v1h-1zM477 311h1v1h-1zM478 312h1v1h-1zM479 313h1v1h-1zM480 314h1v1h-1zM481 315h1v1h-1zM482 316h1v1h-1zM483 317h1v1h-1zM484 318h1v1h-1zM485 319h1v1h-1zM486 320h1v1h-1zM487 321h1v1h-1zM488 322h1v1h-1zM489 322h1v1h-1zM490 323h1v1h-1zM491 323h1v1h-1zM492 322h1v1h-1zM493 322h1v1h-1zM494 322h1v1h-1zM495 321h1v1h-1zM496 321h1v1h-1zM497 320h1v1h-1zM498 319h1v1h-1zM499 318h1v1h-1zM500 317h1v1h-1zM501 316h1v1h-1zM502 315h1v1h-1zM503 315h1v1h-1zM504 314h1v1h-1zM505 313h1v1h-1zM506 313h1v1h-1zM507 314h1v1h-1zM508 314h1v1h-1zM509 314h1v1h-1zM510 315h1v1h-1zM511 315h1v1h-1zM512 315h1v1h-1zM513 315h1v1h-1zM514 315h1v1h-1zM515 315h1v1h-1zM516 314h1v1h-1zM517 313h1v1h-1zM518 313h1v1h-1zM519 312h1v1h-1zM520 311h1v1h-1zM521 311h1v1h-1zM522 311h1v1h-1zM523 310h1v1h-1zM524 310h1v1h-1zM525 310h1v1h-1zM526 310h1v1h-1zM527 310h1v1h-1zM528 310h1v1h-1zM529 310h1v1h-1zM530 310h1v1h-1zM531 310h1v1h-1zM532 310h1v1h-1zM533 310h1v1h-1zM534 310h1v1h-1zM535 310h1v1h-1zM536 310h1v1h-1zM537 310h1v1h-1zM538 310h1v1h-1zM539 310h1v1h-1zM540 310h1v1h-1zM541 311h1v1h-1zM542 311h1v1h-1zM543 312h1v1h-1zM544 313h1v1h-1zM545 313h1v1h-1zM546 313h1v1h-1zM547 312h1v1h-1zM548 312h1v1h-1zM549 312h1v1h-1zM550 311h1v1h-1zM551 310h1v1h-1zM552 309h1v1h-1zM553 308h1v1h-1zM554 307h1v1h-1zM555 306h1v1h-1zM556 306h1v1h-1zM557 306h1v1h-1zM558 305h1v1h-1zM559 305h1v1h-1zM560 305h1v1h-1zM561 306h1v1h-1zM562 307h1v1h-1zM563 308h1v1h-1zM564 309h1v1h-1zM565 310h1v1h-1zM566 310h1v1h-1zM567 311h1v1h-1zM568 311h1v1h-1zM569 311h1v1h-1zM570 312h1v1h-1zM571 312h1v1h-1zM572 312h1v1h-1zM573 312h1v1h-1zM574 312h1v1h-1zM575 312h1v1h-1zM576 312h1v1h-1zM577 313h1v1h-1zM578 313h1v1h-1zM579 313h1v1h-1zM580 313h1v1h-1zM581 313h1v1h-1zM582 313h1v1h-1zM583 313h1v1h-1zM584 313h1v1h-1zM585 313h1v1h-1zM586 313h1v1h-1zM587 313h1v1h-1zM588 313h1v1h-1zM589 313h1v1h-1zM590 312h1v1h-1zM591 311h1v1h-1zM592 309h1v2h-1zM593 308h1v1h-1zM594 307h1v1h-1zM595 305h1v2h-1zM596 304h1v1h-1zM597 303h1v1h-1zM598 301h1v2h-1zM599 300h1v1h-1zM600 298h1v2h-1zM601 296h1v2h-1zM602 295h1v1h-1zM603 293h1v2h-1zM604 291h1v2h-1zM605 289h1v2h-1zM606 287h1v2h-1zM607 285h1v2h-1zM608 283h1v2h-1zM609 282h1v1h-1zM610 280h1v2h-1zM611 279h1v1h-1zM612 277h1v2h-1zM613 276h1v1h-1zM614 275h1v1h-1zM615 274h1v1h-1zM616 274h1v1h-1zM617 273h1v1h-1zM618 273h1v1h-1zM619 273h1v1h-1zM620 272h1v1h-1zM621 272h1v1h-1zM622 272h1v1h-1zM623 271h1v1h-1zM624 271h1v1h-1zM625 270h1v1h-1zM626 270h1v1h-1zM627 269h1v1h-1zM628 268h1v1h-1zM629 267h1v1h-1zM630 266h1v1h-1zM631 266h1v1h-1zM632 265h1v1h-1zM633 264h1v1h-1zM634 264h1v1h-1zM635 263h1v1h-1zM636 262h1v1h-1zM637 262h1v1h-1zM638 261h1v1h-1zM639 260h1v1h-1zM640 260h1v1h-1zM641 259h1v1h-1zM642 259h1v1h-1zM643 258h1v1h-1zM644 258h1v1h-1zM645 258h1v1h-1zM646 258h1v1h-1zM647 258h1v1h-1zM648 258h1v1h-1zM649 258h1v1h-1zM650 258h1v1h-1zM651 258h1v1h-1zM652 258h1v1h-1zM653 258h1v1h-1zM654 258h1v1h-1zM655 257h1v1h-1zM656 257h1v1h-1zM657 257h1v1h-1zM658 256h1v1h-1zM659 256h1v1h-1zM660 255h1v1h-1zM661 255h1v1h-1zM662 254h1v1h-1zM663 254h1v1h-1zM664 253h1v1h-1zM665 252h1v1h-1zM666 251h1v1h-1zM667 250h1v1h-1zM668 249h1v1h-1zM669 248h1v1h-1zM670 247h1v1h-1zM671 245h1v2h-1zM672 244h1v1h-1zM673 243h1v1h-1zM674 241h1v2h-1zM675 239h1v2h-1zM676 238h1v1h-1zM677 236h1v2h-1zM678 234h1v2h-1zM679 232h1v2h-1zM680 229h1v3h-1zM681 227h1v2h-1zM682 224h1v3h-1zM683 222h1v2h-1zM684 219h1v3h-1zM685 216h1v3h-1zM686 214h1v2h-1zM687 211h1v3h-1zM688 208h1v3h-1zM689 205h1v3h-1zM690 202h1v3h-1zM691 198h1v4h-1zM692 195h1v3h-1zM693 192h1v3h-1zM694 189h1v3h-1zM695 186h1v3h-1zM696 184h1v2h-1zM697 181h1v3h-1zM698 179h1v2h-1zM699 176h1v3h-1zM700 174h1v2h-1zM701 172h1v2h-1zM702 169h1v3h-1zM703 167h1v2h-1zM704 166h1v1h-1zM705 165h1v1h-1zM706 163h1v2h-1zM707 162h1v1h-1zM708 161h1v1h-1zM709 160h1v1h-1zM710 159h1v1h-1zM711 159h1v1h-1zM712 158h1v1h-1zM713 158h1v1h-1zM714 158h1v1h-1zM715 158h1v1h-1zM716 159h1v1h-1zM717 159h1v1h-1zM718 160h1v1h-1zM719 161h1v1h-1zM720 162h1v1h-1zM721 163h1v1h-1zM722 164h1v1h-1zM723 165h1v1h-1zM724 166h1v1h-1zM725 167h1v1h-1zM726 168h1v2h-1zM727 170h1v1h-1zM728 171h1v2h-1zM729 173h1v2h-1zM730 175h1v2h-1zM731 177h1v2h-1zM732 179h1v2h-1zM733 181h1v2h-1zM734 183h1v1h-1zM735 184h1v2h-1zM736 186h1v2h-1zM737 188h1v1h-1zM738 189h1v2h-1zM739 191h1v1h-1zM740 192h1v1h-1zM741 193h1v2h-1zM742 195h1v1h-1zM743 196h1v1h-1zM744 197h1v1h-1zM745 198h1v1h-1zM746 199h1v1h-1zM747 200h1v1h-1zM748 201h1v1h-1zM749 200h1v1h-1zM750 200h1v1h-1zM751 199h1v1h-1zM752 199h1v1h-1zM753 198h1v1h-1zM754 198h1v1h-1zM755 197h1v1h-1zM756 196h1v1h-1zM757 195h1v1h-1zM758 194h1v1h-1zM759 193h1v1h-1zM760 193h1v1h-1zM761 192h1v1h-1zM762 191h1v1h-1zM763 190h1v1h-1zM764 189h1v1h-1zM765 189h1v1h-1zM766 188h1v1h-1zM767 187h1v1h-1zM768 187h1v1h-1zM769 186h1v1h-1zM770 185h1v1h-1zM771 185h1v1h-1zM772 184h1v1h-1zM773 183h1v1h-1zM774 181h1v2h-1zM775 179h1v2h-1zM776 178h1v1h-1zM777 176h1v2h-1zM778 174h1v2h-1zM779 171h1v3h-1zM780 169h1v2h-1zM781 167h1v2h-1zM782 164h1v3h-1zM783 162h1v2h-1zM784 159h1v3h-1zM785 156h1v3h-1zM786 154h1v2h-1zM787 151h1v3h-1zM788 148h1v3h-1zM789 145h1v3h-1zM790 142h1v3h-1zM791 139h1v3h-1zM792 136h1v3h-1zM793 134h1v2h-1zM794 131h1v3h-1zM795 129h1v2h-1zM796 127h1v2h-1zM797 125h1v2h-1zM798 123h1v2h-1zM799 122h1v1h-1zM800 121h1v1h-1zM801 119h1v2h-1zM802 118h1v1h-1zM803 117h1v1h-1zM804 116h1v1h-1zM805 115h1v1h-1zM806 114h1v1h-1zM807 113h1v1h-1zM808 112h1v1h-1zM809 112h1v1h-1zM810 111h1v1h-1zM811 111h1v1h-1zM812 110h1v1h-1zM813 110h1v1h-1zM814 110h1v1h-1zM815 110h1v1h-1zM816 111h1v1h-1zM817 112h1v1h-1zM818 113h1v1h-1zM819 114h1v1h-1zM820 115h1v2h-1zM821 117h1v1h-1zM822 118h1v2h-1zM823 120h1v2h-1zM824 122h1v2h-1zM825 124h1v2h-1zM826 126h1v2h-1zM827 128h1v2h-1zM828 130h1v2h-1zM829 132h1v2h-1zM830 134h1v2h-1zM831 136h1v2h-1zM832 138h1v2h-1zM833 140h1v2h-1zM834 142h1v1h-1zM835 143h1v2h-1zM836 145h1v2h-1zM837 147h1v1h-1zM838 148h1v2h-1zM839 150h1v1h-1zM840 151h1v1h-1zM841 152h1v1h-1zM842 153h1v2h-1zM843 155h1v1h-1zM844 156h1v1h-1zM845 156h1v1h-1zM846 157h1v1h-1zM847 158h1v1h-1zM848 158h1v1h-1zM849 159h1v1h-1zM850 160h1v1h-1zM851 160h1v1h-1zM852 161h1v1h-1zM853 162h1v1h-1zM854 162h1v1h-1zM855 162h1v1h-1zM856 162h1v1h-1zM857 161h1v1h-1zM858 161h1v1h-1zM859 160h1v1h-1zM860 159h1v1h-1zM861 158h1v1h-1zM862 157h1v1h-1zM863 156h1v1h-1zM864 155h1v1h-1zM865 154h1v1h-1zM866 153h1v1h-1zM867 153h1v1h-1zM868 152h1v1h-1zM869 152h1v1h-1zM870 152h1v1h-1zM871 152h1v1h-1zM872 152h1v1h-1zM873 152h1v1h-1zM874 152h1v1h-1zM875 153h1v1h-1zM876 153h1v1h-1zM877 154h1v1h-1zM878 155h1v1h-1zM879 155h1v1h-1zM880 156h1v1h-1zM881 156h1v1h-1zM882 156h1v1h-1zM883 157h1v1h-1zM884 157h1v1h-1zM885 157h1v1h-1zM886 157h1v1h-1zM887 157h1v1h-1zM888 158h1v1h-1zM889 158h1v1h-1zM890 157h1v1h-1zM891 156h1v1h-1zM892 156h1v1h-1zM893 155h1v1h-1zM894 154h1v1h-1zM895 154h1v1h-1zM896 153h1v1h-1zM897 153h1v1h-1zM898 152h1v1h-1zM899 152h1v1h-1zM900 152h1v1h-1zM901 153h1v1h-1zM902 153h1v1h-1zM903 153h1v1h-1zM904 154h1v2h-1zM905 156h1v1h-1zM906 157h1v2h-1zM907 159h1v2h-1zM908 161h1v1h-1zM909 162h1v2h-1zM910 164h1v2h-1zM911 166h1v1h-1zM912 167h1v2h-1zM913 169h1v2h-1zM914 171h1v1h-1zM915 172h1v1h-1zM916 173h1v1h-1zM917 174h1v1h-1zM918 175h1v1h-1zM919 176h1v1h-1zM920 177h1v1h-1zM921 178h1v1h-1zM922 179h1v1h-1zM923 180h1v1h-1zM924 181h1v1h-1zM925 182h1v1h-1zM926 183h1v1h-1zM927 184h1v1h-1zM928 185h1v1h-1zM929 186h1v1h-1zM930 187h1v1h-1z" fill="#0000cd" shape-rendering="crispEdges"/>
<path d="M6 231h1v3h-1zM7 227h1v4h-1zM8 223h1v4h-1zM9 220h1v3h-1zM10 218h1v2h-1zM11 216h1v2h-1zM12 213h1v3h-1zM13 211h1v2h-1zM14 209h1v2h-1zM15 206h1v3h-1zM16 204h1v2h-1zM17 202h1v2h-1zM18 199h1v3h-1zM19 197h1v2h-1zM20 196h1v1h-1zM21 194h1v2h-1zM22 193h1v1h-1zM23 191h1v2h-1zM24 190h1v1h-1zM25 190h1v1h-1zM26 189h1v1h-1zM27 189h1v1h-1zM28 189h1v1h-1zM29 190h1v1h-1zM30 191h1v1h-1zM31 192h1v1h-1zM32 193h1v2h-1zM33 195h1v1h-1zM34 196h1v2h-1zM35 198h1v1h-1zM36 199h1v2h-1zM37 201h1v2h-1zM38 203h1v1h-1zM39 204h1v2h-1zM40 206h1v2h-1zM41 208h1v1h-1zM42 209h1v2h-1zM43 211h1v2h-1zM44 213h1v1h-1zM45 214h1v2h-1zM46 216h1v1h-1zM47 217h1v2h-1zM48 219h1v1h-1zM49 220h1v2h-1zM50 222h1v1h-1zM51 223h1v1h-1zM52 223h1v1h-1zM53 223h1v1h-1zM54 224h1v1h-1zM55 224h1v1h-1zM56 224h1v1h-1zM57 224h1v1h-1zM58 223h1v1h-1zM59 222h1v1h-1zM60 222h1v1h-1zM61 220h1v2h-1zM62 218h1v2h-1zM63 217h1v1h-1zM64 215h1v2h-1zM65 213h1v2h-1zM66 211h1v2h-1zM67 209h1v2h-1zM68 208h1v1h-1zM69 207h1v1h-1zM70 207h1v2h-1zM71 209h1v1h-1zM72 210h1v3h-1zM73 213h1v3h-1zM74 216h1v3h-1zM75 219h1v3h-1zM76 222h1v3h-1zM77 225h1v3h-1zM78 228h1v3h-1zM79 231h1v3h-1zM80 234h1v3h-1zM81 237h1v3h-1zM82 240h1v4h-1zM83 244h1v3h-1zM84 247h1v3h-1zM85 250h1v4h-1zM86 254h1v4h-1zM87 258h1v3h-1zM88 261h1v4h-1zM89 265h1v4h-1zM90 269h1v4h-1zM91 273h1v4h-1zM92 277h1v4h-1zM93 281h1v5h-1zM94 286h1v4h-1zM95 290h1v4h-1zM96 294h1v4h-1zM97 298h1v4h-1zM98 302h1v3h-1zM99 305h1v2h-1zM100 307h1v2h-1zM101 309h1v2h-1zM102 311h1v1h-1zM103 311h1v1h-1zM104 311h1v1h-1zM105 311h1v1h-1zM106 311h1v1h-1zM107 311h1v1h-1zM108 311h1v1h-1zM109 310h1v1h-1zM110 309h1v1h-1zM111 308h1v1h-1zM112 307h1v1h-1zM113 305h1v2h-1zM114 304h1v1h-1zM115 302h1v2h-1zM116 301h1v1h-1zM117 300h1v1h-1zM118 298h1v2h-1zM119 297h1v1h-1zM120 296h1v1h-1zM121 295h1v1h-1zM122 294h1v1h-1zM123 294h1v1h-1zM124 294h1v1h-1zM125 294h1v1h-1zM126 295h1v1h-1zM127 296h1v1h-1zM128 297h1v1h-1zM129 298h1v1h-1zM130 299h1v1h-1zM131 300h1v1h-1zM132 301h1v1h-1zM133 300h1v1h-1zM134 299h1v1h-1zM135 298h1v1h-1zM136 297h1v1h-1zM137 295h1v2h-1zM138 294h1v1h-1zM139 293h1v1h-1zM140 292h1v1h-1zM141 292h1v1h-1zM142 291h1v1h-1zM143 291h1v1h-1zM144 290h1v1h-1zM145 290h1v1h-1zM146 288h1v2h-1zM147 287h1v1h-1zM148 286h1v1h-1zM149 284h1v2h-1zM150 282h1v2h-1zM151 280h1v2h-1zM152 278h1v2h-1zM153 276h1v2h-1zM154 274h1v2h-1zM155 273h1v1h-1zM156 271h1v2h-1zM157 270h1v1h-1zM158 268h1v2h-1zM159 267h1v1h-1zM160 266h1v1h-1zM161 266h1v1h-1zM162 266h1v1h-1zM163 265h1v1h-1zM164 265h1v1h-1zM165 265h1v1h-1zM166 264h1v1h-1zM167 264h1v1h-1zM168 263h1v1h-1zM169 262h1v1h-1zM170 262h1v1h-1zM171 261h1v1h-1zM172 260h1v1h-1zM173 259h1v1h-1zM174 258h1v1h-1zM175 257h1v1h-1zM176 256h1v1h-1zM177 255h1v1h-1zM178 254h1v1h-1zM179 253h1v1h-1zM180 253h1v1h-1zM181 253h1v1h-1zM182 253h1v1h-1zM183 254h1v1h-1zM184 254h1v1h-1zM185 255h1v1h-1zM186 256h1v1h-1zM187 256h1v1h-1zM188 257h1v1h-1zM189 257h1v1h-1zM190 258h1v1h-1zM191 258h1v1h-1zM192 258h1v1h-1zM193 259h1v1h-1zM194 259h1v1h-1zM195 259h1v1h-1zM196 260h1v1h-1zM197 260h1v1h-1zM198 260h1v1h-1zM199 261h1v1h-1zM200 262h1v1h-1zM201 262h1v1h-1zM202 263h1v1h-1zM203 264h1v1h-1zM204 264h1v1h-1zM205 264h1v1h-1zM206 264h1v1h-1zM207 264h1v1h-1zM208 264h1v1h-1zM209 264h1v1h-1zM210 264h1v1h-1zM211 263h1v1h-1zM212 262h1v1h-1zM213 262h1v1h-1zM214 261h1v1h-1zM215 261h1v1h-1zM216 261h1v1h-1zM217 262h1v1h-1zM218 262h1v1h-1zM219 263h1v1h-1zM220 263h1v1h-1zM221 264h1v1h-1zM222 265h1v1h-1zM223 266h1v2h-1zM224 268h1v1h-1zM225 269h1v1h-1zM226 270h1v1h-1zM227 271h1v1h-1zM228 272h1v2h-1zM229 274h1v3h-1zM230 277h1v3h-1zM231 280h1v3h-1zM232 283h1v3h-1zM233 286h1v2h-1zM234 288h1v3h-1zM235 291h1v2h-1zM236 293h1v3h-1zM237 296h1v2h-1zM238 298h1v2h-1zM239 300h1v2h-1zM240 302h1v2h-1zM241 304h1v2h-1zM242 306h1v2h-1zM243 308h1v2h-1zM244 310h1v2h-1zM245 312h1v3h-1zM246 315h1v3h-1zM247 318h1v3h-1zM248 321h1v3h-1zM249 324h1v3h-1zM250 327h1v3h-1zM251 330h1v3h-1zM252 333h1v3h-1zM253 336h1v3h-1zM254 339h1v4h-1zM255 343h1v5h-1zM256 348h1v3h-1zM257 351h1v3h-1zM258 354h1v2h-1zM259 356h1v3h-1zM260 359h1v3h-1zM261 362h1v4h-1zM262 366h1v4h-1zM263 370h1v4h-1zM264 374h1v5h-1zM265 379h1v4h-1zM266 383h1v5h-1zM267 388h1v5h-1zM268 393h1v4h-1zM269 397h1v5h-1zM270 402h1v3h-1zM271 405h1v2h-1zM272 407h1v3h-1zM273 410h1v2h-1zM274 412h1v3h-1zM275 415h1v2h-1zM276 417h1v2h-1zM277 419h1v2h-1zM278 421h1v2h-1zM279 423h1v2h-1zM280 425h1v1h-1zM281 425h1v1h-1zM282 425h1v1h-1zM283 426h1v1h-1zM284 426h1v1h-1zM285 427h1v1h-1zM286 428h1v1h-1zM287 429h1v2h-1zM288 431h1v1h-1zM289 431h1v1h-1zM290 432h1v1h-1zM291 432h1v1h-1zM292 433h1v1h-1zM293 434h1v1h-1zM294 435h1v1h-1zM295 436h1v1h-1zM296 437h1v1h-1zM297 437h1v1h-1zM298 438h1v1h-1zM299 439h1v1h-1zM300 440h1v1h-1zM301 440h1v1h-1zM302 440h1v1h-1zM303 440h1v1h-1zM304 440h1v1h-1zM305 440h1v1h-1zM306 439h1v1h-1zM307 438h1v2h-1zM308 437h1v1h-1zM309 436h1v1h-1zM310 435h1v1h-1zM311 434h1v1h-1zM312 433h1v1h-1zM313 432h1v1h-1zM314 431h1v1h-1zM315 429h1v2h-1zM316 428h1v1h-1zM317 427h1v1h-1zM318 425h1v2h-1zM319 424h1v1h-1zM320 422h1v2h-1zM321 421h1v1h-1zM322 419h1v2h-1zM323 416h1v3h-1zM324 412h1v4h-1zM325 409h1v3h-1zM326 404h1v5h-1zM327 399h1v5h-1zM328 395h1v4h-1zM329 391h1v4h-1zM330 387h1v4h-1zM331 383h1v4h-1zM332 378h1v5h-1zM333 373h1v5h-1zM334 369h1v4h-1zM335 364h1v5h-1zM336 359h1v5h-1zM337 350h1v9h-1zM338 333h1v17h-1zM339 316h1v17h-1zM340 311h1v5h-1zM341 306h1v5h-1zM342 302h1v4h-1zM343 297h1v5h-1zM344 292h1v5h-1zM345 289h1v3h-1zM346 285h1v4h-1zM347 281h1v4h-1zM348 278h1v3h-1zM349 274h1v4h-1zM350 270h1v4h-1zM351 267h1v3h-1zM352 263h1v4h-1zM353 259h1v4h-1zM354 256h1v3h-1zM355 253h1v3h-1zM356 250h1v3h-1zM357 247h1v3h-1zM358 244h1v3h-1zM359 241h1v3h-1zM360 239h1v2h-1zM361 238h1v1h-1zM362 236h1v2h-1zM363 234h1v2h-1zM364 233h1v1h-1zM365 232h1v1h-1zM366 231h1v1h-1zM367 230h1v1h-1zM368 229h1v1h-1zM369 228h1v1h-1zM370 227h1v1h-1zM371 226h1v1h-1zM372 225h1v1h-1zM373 224h1v1h-1zM374 224h1v1h-1zM375 223h1v1h-1zM376 223h1v1h-1zM377 222h1v1h-1zM378 222h1v1h-1zM379 222h1v1h-1zM380 222h1v1h-1zM381 222h1v1h-1zM382 222h1v1h-1zM383 223h1v1h-1zM384 224h1v2h-1zM385 226h1v2h-1zM386 228h1v2h-1zM387 230h1v3h-1zM388 233h1v3h-1zM389 236h1v4h-1zM390 240h1v3h-1zM391 243h1v3h-1zM392 246h1v4h-1zM393 250h1v4h-1zM394 254h1v4h-1zM395 258h1v4h-1zM396 262h1v4h-1zM397 266h1v4h-1zM398 270h1v4h-1zM399 274h1v4h-1zM400 278h1v4h-1zM401 282h1v4h-1zM402 286h1v4h-1zM403 290h1v4h-1zM404 294h1v4h-1zM405 298h1v4h-1zM406 302h1v4h-1zM407 306h1v4h-1zM408 310h1v3h-1zM409 313h1v3h-1zM410 316h1v4h-1zM411 320h1v3h-1zM412 323h1v2h-1zM413 325h1v2h-1zM414 327h1v1h-1zM415 328h1v1h-1zM416 329h1v2h-1zM417 331h1v1h-1zM418 332h1v1h-1zM419 332h1v1h-1zM420 333h1v1h-1zM421 332h1v2h-1zM422 331h1v1h-1zM423 329h1v2h-1zM424 327h1v2h-1zM425 325h1v2h-1zM426 322h1v3h-1zM427 320h1v2h-1zM428 318h1v2h-1zM429 315h1v3h-1zM430 313h1v2h-1zM431 311h1v2h-1zM432 308h1v3h-1zM433 306h1v2h-1zM434 304h1v2h-1zM435 302h1v2h-1zM436 300h1v2h-1zM437 298h1v2h-1zM438 296h1v2h-1zM439 294h1v2h-1zM440 293h1v1h-1zM441 291h1v2h-1zM442 289h1v2h-1zM443 288h1v1h-1zM444 287h1v1h-1zM445 286h1v1h-1zM446 285h1v1h-1zM447 284h1v1h-1zM448 283h1v1h-1zM449 282h1v1h-1zM450 283h1v1h-1zM451 283h1v1h-1zM452 283h1v1h-1zM453 283h1v1h-1zM454 284h1v1h-1zM455 285h1v2h-1zM456 287h1v2h-1zM457 289h1v1h-1zM458 290h1v2h-1zM459 292h1v2h-1zM460 294h1v2h-1zM461 296h1v2h-1zM462 298h1v2h-1zM463 300h1v2h-1zM464 302h1v2h-1zM465 304h1v2h-1zM466 306h1v2h-1zM467 308h1v2h-1zM468 310h1v2h-1zM469 312h1v2h-1zM470 314h1v2h-1zM471 316h1v2h-1zM472 318h1v2h-1zM473 320h1v2h-1zM474 322h1v2h-1zM475 324h1v1h-1zM476 325h1v2h-1zM477 327h1v2h-1zM478 329h1v1h-1zM479 330h1v1h-1zM480 330h1v1h-1zM481 331h1v1h-1zM482 331h1v1h-1zM483 332h1v1h-1zM484 332h1v1h-1zM485 332h1v1h-1zM486 332h1v1h-1zM487 332h1v1h-1zM488 331h1v1h-1zM489 330h1v2h-1zM490 329h1v1h-1zM491 328h1v1h-1zM492 326h1v2h-1zM493 325h1v1h-1zM494 322h1v3h-1zM495 319h1v3h-1zM496 317h1v2h-1zM497 314h1v3h-1zM498 312h1v2h-1zM499 310h1v2h-1zM500 309h1v1h-1zM501 307h1v2h-1zM502 306h1v1h-1zM503 305h1v1h-1zM504 304h1v1h-1zM505 305h1v1h-1zM506 305h1v1h-1zM507 305h1v1h-1zM508 306h1v1h-1zM509 307h1v1h-1zM510 308h1v1h-1zM511 309h1v1h-1zM512 310h1v1h-1zM513 311h1v1h-1zM514 311h1v1h-1zM515 312h1v1h-1zM516 313h1v1h-1zM517 313h1v1h-1zM518 313h1v1h-1zM519 314h1v1h-1zM520 314h1v1h-1zM521 314h1v1h-1zM522 314h1v1h-1zM523 315h1v1h-1zM524 316h1v1h-1zM525 317h1v1h-1zM526 318h1v1h-1zM527 318h1v1h-1zM528 319h1v1h-1zM529 319h1v1h-1zM530 319h1v1h-1zM531 320h1v1h-1zM532 318h1v2h-1zM533 317h1v1h-1zM534 315h1v2h-1zM535 313h1v2h-1zM536 312h1v1h-1zM537 310h1v2h-1zM538 309h1v1h-1zM539 307h1v2h-1zM540 306h1v1h-1zM541 305h1v1h-1zM542 304h1v1h-1zM543 304h1v1h-1zM544 304h1v1h-1zM545 304h1v1h-1zM546 303h1v1h-1zM547 303h1v1h-1zM548 304h1v1h-1zM549 304h1v1h-1zM550 304h1v1h-1zM551 305h1v1h-1zM552 305h1v1h-1zM553 305h1v1h-1zM554 305h1v1h-1zM555 304h1v1h-1zM556 304h1v1h-1zM557 304h1v1h-1zM558 305h1v1h-1zM559 305h1v1h-1zM560 305h1v2h-1zM561 307h1v1h-1zM562 308h1v1h-1zM563 309h1v2h-1zM564 311h1v1h-1zM565 312h1v1h-1zM566 313h1v1h-1zM567 314h1v1h-1zM568 315h1v1h-1zM569 316h1v1h-1zM570 316h1v1h-1zM571 316h1v1h-1zM572 316h1v1h-1zM573 316h1v1h-1zM574 316h1v1h-1zM575 316h1v1h-1zM576 316h1v1h-1zM577 316h1v1h-1zM578 316h1v1h-1zM579 316h1v1h-1zM580 316h1v1h-1zM581 316h1v1h-1zM582 316h1v1h-1zM583 316h1v1h-1zM584 316h1v1h-1zM585 316h1v1h-1zM586 315h1v1h-1zM587 314h1v1h-1zM588 313h1v1h-1zM589 311h1v2h-1zM590 308h1v3h-1zM591 306h1v2h-1zM592 303h1v3h-1zM593 300h1v3h-1zM594 298h1v2h-1zM595 295h1v3h-1zM596 292h1v3h-1zM597 290h1v2h-1zM598 287h1v3h-1zM599 284h1v3h-1zM600 282h1v2h-1zM601 279h1v3h-1zM602 276h1v3h-1zM603 274h1v2h-1zM604 271h1v3h-1zM605 269h1v2h-1zM606 266h1v3h-1zM607 264h1v2h-1zM608 262h1v2h-1zM609 260h1v2h-1zM610 259h1v1h-1zM611 258h1v1h-1zM612 257h1v1h-1zM613 256h1v1h-1zM614 255h1v1h-1zM615 255h1v1h-1zM616 256h1v1h-1zM617 256h1v1h-1zM618 256h1v1h-1zM619 256h1v1h-1zM620 257h1v1h-1zM621 258h1v1h-1zM622 259h1v2h-1zM623 261h1v1h-1zM624 262h1v1h-1zM625 263h1v1h-1zM626 264h1v2h-1zM627 266h1v1h-1zM628 267h1v1h-1zM629 268h1v1h-1zM630 269h1v1h-1zM631 270h1v1h-1zM632 270h1v1h-1zM633 271h1v1h-1zM634 272h1v1h-1zM635 271h1v1h-1zM636 271h1v1h-1zM637 271h1v1h-1zM638 270h1v1h-1zM639 269h1v2h-1zM640 267h1v2h-1zM641 265h1v2h-1zM642 263h1v2h-1zM643 261h1v2h-1zM644 259h1v2h-1zM645 256h1v3h-1zM646 254h1v2h-1zM647 252h1v2h-1zM648 250h1v2h-1zM649 248h1v2h-1zM650 247h1v1h-1zM651 246h1v1h-1zM652 245h1v1h-1zM653 244h1v1h-1zM654 243h1v1h-1zM655 242h1v1h-1zM656 242h1v1h-1zM657 241h1v1h-1zM658 241h1v1h-1zM659 241h1v1h-1zM660 242h1v1h-1zM661 243h1v1h-1zM662 244h1v1h-1zM663 245h1v1h-1zM664 246h1v1h-1zM665 246h1v1h-1zM666 247h1v1h-1zM667 248h1v1h-1zM668 248h1v1h-1zM669 248h1v1h-1zM670 247h1v1h-1zM671 246h1v1h-1zM672 245h1v1h-1zM673 244h1v1h-1zM674 242h1v2h-1zM675 239h1v3h-1zM676 237h1v2h-1zM677 235h1v2h-1zM678 232h1v3h-1zM679 228h1v4h-1zM680 224h1v4h-1zM681 220h1v4h-1zM682 216h1v4h-1zM683 212h1v4h-1zM684 208h1v4h-1zM685 204h1v4h-1zM686 200h1v4h-1zM687 196h1v4h-1zM688 191h1v5h-1zM689 186h1v5h-1zM690 181h1v5h-1zM691 175h1v6h-1zM692 170h1v5h-1zM693 165h1v5h-1zM694 161h1v4h-1zM695 158h1v3h-1zM696 154h1v4h-1zM697 150h1v4h-1zM698 148h1v2h-1zM699 147h1v1h-1zM700 146h1v1h-1zM701 145h1v1h-1zM702 144h1v1h-1zM703 143h1v1h-1zM704 142h1v1h-1zM705 142h1v1h-1zM706 141h1v1h-1zM707 142h1v1h-1zM708 143h1v1h-1zM709 144h1v1h-1zM710 145h1v2h-1zM711 147h1v2h-1zM712 149h1v2h-1zM713 151h1v2h-1zM714 153h1v2h-1zM715 155h1v3h-1zM716 158h1v3h-1zM717 161h1v4h-1zM718 165h1v3h-1zM719 168h1v3h-1zM720 171h1v4h-1zM721 175h1v3h-1zM722 178h1v3h-1zM723 181h1v4h-1zM724 185h1v3h-1zM725 188h1v2h-1zM726 190h1v1h-1zM727 191h1v2h-1zM728 193h1v2h-1zM729 195h1v1h-1zM730 196h1v1h-1zM731 197h1v1h-1zM732 198h1v1h-1zM733 199h1v1h-1zM734 200h1v1h-1zM735 201h1v1h-1zM736 201h1v1h-1zM737 201h1v1h-1zM738 201h1v1h-1zM739 201h1v1h-1zM740 201h1v1h-1zM741 200h1v1h-1zM742 199h1v1h-1zM743 198h1v1h-1zM744 197h1v1h-1zM745 197h1v1h-1zM746 196h1v1h-1zM747 196h1v1h-1zM748 195h1v1h-1zM749 195h1v1h-1zM750 194h1v1h-1zM751 194h1v1h-1zM752 194h1v1h-1zM753 194h1v1h-1zM754 193h1v1h-1zM755 193h1v1h-1zM756 192h1v1h-1zM757 192h1v1h-1zM758 191h1v1h-1zM759 190h1v1h-1zM760 190h1v1h-1zM761 189h1v1h-1zM762 188h1v1h-1zM763 187h1v1h-1zM764 186h1v1h-1zM765 184h1v2h-1zM766 183h1v1h-1zM767 182h1v1h-1zM768 180h1v2h-1zM769 179h1v1h-1zM770 178h1v1h-1zM771 176h1v2h-1zM772 175h1v1h-1zM773 174h1v1h-1zM774 172h1v2h-1zM775 170h1v2h-1zM776 168h1v2h-1zM777 166h1v2h-1zM778 164h1v2h-1zM779 162h1v2h-1zM780 159h1v3h-1zM781 157h1v2h-1zM782 154h1v3h-1zM783 151h1v3h-1zM784 148h1v3h-1zM785 144h1v4h-1zM786 140h1v4h-1zM787 136h1v4h-1zM788 132h1v4h-1zM789 129h1v3h-1zM790 126h1v3h-1zM791 123h1v3h-1zM792 120h1v3h-1zM793 117h1v3h-1zM794 114h1v3h-1zM795 112h1v2h-1zM796 110h1v2h-1zM797 108h1v2h-1zM798 106h1v2h-1zM799 104h1v2h-1zM800 103h1v1h-1zM801 102h1v1h-1zM802 101h1v1h-1zM803 100h1v1h-1zM804 99h1v1h-1zM805 98h1v1h-1zM806 98h1v1h-1zM807 98h1v1h-1zM808 98h1v1h-1zM809 98h1v1h-1zM810 99h1v2h-1zM811 101h1v1h-1zM812 102h1v2h-1zM813 104h1v1h-1zM814 105h1v3h-1zM815 108h1v3h-1zM816 111h1v3h-1zM817 114h1v4h-1zM818 118h1v3h-1zM819 121h1v3h-1zM820 124h1v4h-1zM821 128h1v3h-1zM822 131h1v3h-1zM823 134h1v4h-1zM824 138h1v3h-1zM825 141h1v3h-1zM826 144h1v3h-1zM827 147h1v3h-1zM828 150h1v3h-1zM829 153h1v2h-1zM830 155h1v1h-1zM831 156h1v2h-1zM832 158h1v2h-1zM833 160h1v1h-1zM834 161h1v1h-1zM835 162h1v1h-1zM836 162h1v1h-1zM837 163h1v1h-1zM838 163h1v1h-1zM839 163h1v1h-1zM840 164h1v1h-1zM841 164h1v1h-1zM842 164h1v1h-1zM843 164h1v1h-1zM844 164h1v1h-1zM845 164h1v1h-1zM846 163h1v1h-1zM847 162h1v1h-1zM848 161h1v1h-1zM849 160h1v1h-1zM850 159h1v1h-1zM851 158h1v1h-1zM852 157h1v1h-1zM853 156h1v1h-1zM854 155h1v1h-1zM855 154h1v1h-1zM856 153h1v1h-1zM857 152h1v1h-1zM858 151h1v1h-1zM859 150h1v1h-1zM860 150h1v1h-1zM861 150h1v1h-1zM862 149h1v1h-1zM863 149h1v1h-1zM864 149h1v1h-1zM865 150h1v1h-1zM866 151h1v1h-1zM867 152h1v1h-1zM868 153h1v1h-1zM869 154h1v1h-1zM870 154h1v1h-1zM871 154h1v1h-1zM872 154h1v1h-1zM873 154h1v1h-1zM874 154h1v1h-1zM875 154h1v1h-1zM876 154h1v1h-1zM877 154h1v1h-1zM878 154h1v1h-1zM879 155h1v1h-1zM880 155h1v1h-1zM881 156h1v1h-1zM882 157h1v1h-1zM883 158h1v1h-1zM884 159h1v1h-1zM885 159h1v1h-1zM886 159h1v1h-1zM887 159h1v1h-1zM888 159h1v1h-1zM889 159h1v1h-1zM890 158h1v1h-1zM891 157h1v1h-1zM892 157h1v1h-1zM893 156h1v1h-1zM894 155h1v1h-1zM895 155h1v1h-1zM896 154h1v1h-1zM897 153h1v1h-1zM898 153h1v1h-1zM899 153h1v1h-1zM900 153h1v1h-1zM901 153h1v1h-1zM902 153h1v1h-1zM903 153h1v1h-1zM904 154h1v1h-1zM905 155h1v2h-1zM906 157h1v1h-1zM907 158h1v1h-1zM908 159h1v2h-1zM909 161h1v2h-1zM910 163h1v3h-1zM911 166h1v2h-1zM912 168h1v2h-1zM913 170h1v3h-1zM914 173h1v3h-1zM915 176h1v2h-1zM916 178h1v3h-1zM917 181h1v3h-1zM918 184h1v2h-1zM919 186h1v3h-1zM920 189h1v3h-1zM921 192h1v2h-1zM922 194h1v3h-1zM923 197h1v2h-1zM924 199h1v2h-1zM925 201h1v2h-1zM926 203h1v2h-1zM927 205h1v2h-1zM928 207h1v2h-1zM929 209h1v2h-1zM930 211h1v1h-1z" fill="#ff0000" shape-rendering="crispEdges"/>
</g>
<rect x="230" y="43" width="940" height="2" fill="#ff0000" />
<rect x="6" y="44" width="1" height="1" fill="#ff0000" />
<rect x="6" y="165" width="1164" height="2" fill="#ff0000" />
<rect x="6" y="268" width="1164" height="2" fill="#00ff00" />
<rect x="6" y="346" width="1164" height="2" fill="#0000ff" />
<rect x="6" y="444" width="1164" height="2" fill="#0000ff" />
<rect x="6" y="266" width="6" height="6" fill="#00ff00" />
<rect x="8" y="268" width="2" height="2" fill="#fff" />
<rect x="1162" y="266" width="6" height="6" fill="#00ff00" />
<rect x="1164" y="268" width="2" height="2" fill="#fff" />
<rect x="6" y="344" width="6" height="6" fill="#0000ff" />
<rect x="8" y="346" width="2" height="2" fill="#fff" />
<rect x="1162" y="344" width="6" height="6" fill="#0000ff" />
<rect x="1164" y="346" width="2" height="2" fill="#fff" />
<rect x="1169" y="53" width="2" height="1" fill="#000" />
<text x="1174" y="57" font-size="10.1" fill="#000" textLength="32.5" lengthAdjust="spacingAndGlyphs" stroke="#000" stroke-width="0.15" >0.93630</text>
<rect x="1169" y="86" width="2" height="1" fill="#000" />
<text x="1174" y="90" font-size="10.1" fill="#000" textLength="32.5" lengthAdjust="spacingAndGlyphs" stroke="#000" stroke-width="0.15" >0.93360</text>
<rect x="1169" y="119" width="2" height="1" fill="#000" />
<text x="1174" y="123" font-size="10.1" fill="#000" textLength="32.5" lengthAdjust="spacingAndGlyphs" stroke="#000" stroke-width="0.15" >0.93085</text>
<rect x="1169" y="152" width="2" height="1" fill="#000" />
<text x="1174" y="156" font-size="10.1" fill="#000" textLength="32.5" lengthAdjust="spacingAndGlyphs" stroke="#000" stroke-width="0.15" >0.92815</text>
<rect x="1169" y="185" width="2" height="1" fill="#000" />
<text x="1174" y="189" font-size="10.1" fill="#000" textLength="32.5" lengthAdjust="spacingAndGlyphs" stroke="#000" stroke-width="0.15" >0.92545</text>
<rect x="1169" y="218" width="2" height="1" fill="#000" />
<text x="1174" y="222" font-size="10.1" fill="#000" textLength="32.5" lengthAdjust="spacingAndGlyphs" stroke="#000" stroke-width="0.15" >0.92270</text>
<rect x="1169" y="251" width="2" height="1" fill="#000" />
<text x="1174" y="255" font-size="10.1" fill="#000" textLength="32.5" lengthAdjust="spacingAndGlyphs" stroke="#000" stroke-width="0.15" >0.92000</text>
<rect x="1169" y="284" width="2" height="1" fill="#000" />
<text x="1174" y="288" font-size="10.1" fill="#000" textLength="32.5" lengthAdjust="spacingAndGlyphs" stroke="#000" stroke-width="0.15" >0.91730</text>
<rect x="1169" y="317" width="2" height="1" fill="#000" />
<text x="1174" y="321" font-size="10.1" fill="#000" textLength="32.5" lengthAdjust="spacingAndGlyphs" stroke="#000" stroke-width="0.15" >0.91455</text>
<rect x="1169" y="350" width="2" height="1" fill="#000" />
<text x="1174" y="354" font-size="10.1" fill="#000" textLength="32.5" lengthAdjust="spacingAndGlyphs" stroke="#000" stroke-width="0.15" >0.91185</text>
<rect x="1169" y="383" width="2" height="1" fill="#000" />
<text x="1174" y="387" font-size="10.1" fill="#000" textLength="32.5" lengthAdjust="spacingAndGlyphs" stroke="#000" stroke-width="0.15" >0.90915</text>
<rect x="1169" y="416" width="2" height="1" fill="#000" />
<text x="1174" y="420" font-size="10.1" fill="#000" textLength="32.5" lengthAdjust="spacingAndGlyphs" stroke="#000" stroke-width="0.15" >0.90640</text>
<rect x="1169" y="449" width="2" height="1" fill="#000" />
<text x="1174" y="453" font-size="10.1" fill="#000" textLength="32.5" lengthAdjust="spacingAndGlyphs" stroke="#000" stroke-width="0.15" >0.90370</text>
<rect x="1169" y="482" width="2" height="1" fill="#000" />
<text x="1174" y="486" font-size="10.1" fill="#000" textLength="32.5" lengthAdjust="spacingAndGlyphs" stroke="#000" stroke-width="0.15" >0.90100</text>
<rect x="1170" y="38" width="41" height="11" fill="#ff0000" />
<text x="1174" y="47" font-size="10.1" fill="#fff" textLength="32.5" lengthAdjust="spacingAndGlyphs" >0.93702</text>
<rect x="1170" y="160" width="41" height="11" fill="#ff0000" />
<text x="1174" y="169" font-size="10.1" fill="#fff" textLength="32.5" lengthAdjust="spacingAndGlyphs" >0.92699</text>
<rect x="1170" y="213" width="41" height="11" fill="#000000" />
<text x="1174" y="222" font-size="10.1" fill="#fff" textLength="32.5" lengthAdjust="spacingAndGlyphs" >0.92272</text>
<rect x="1170" y="263" width="41" height="11" fill="#00ff00" />
<text x="1174" y="272" font-size="10.1" fill="#fff" textLength="32.5" lengthAdjust="spacingAndGlyphs" >0.91855</text>
<rect x="1170" y="341" width="41" height="11" fill="#0000ff" />
<text x="1174" y="350" font-size="10.1" fill="#fff" textLength="32.5" lengthAdjust="spacingAndGlyphs" >0.91208</text>
<rect x="1170" y="439" width="41" height="11" fill="#0000ff" />
<text x="1174" y="448" font-size="10.1" fill="#fff" textLength="32.5" lengthAdjust="spacingAndGlyphs" >0.90405</text>
<path d="M5.8,534.3 L5.8,518.0 L7.9,513.5 L11.9,512.7 L15.8,514.0 L19.8,515.4 L23.8,516.2 L26.4,518.0 L29.0,522.0 L31.7,527.2 L35.6,531.2 L39.6,533.1 L43.6,535.2 L46.2,536.5 L48.8,533.8 L52.8,531.2 L56.8,530.4 L60.7,529.9 L64.7,528.6 L68.6,527.2 L70.8,526.7 L72.6,531.2 L73.9,537.8 L76.6,547.0 L79.2,552.3 L83.2,556.3 L87.1,558.9 L91.1,559.7 L95.0,557.6 L99.0,556.3 L103.0,554.2 L106.9,551.0 L110.9,547.0 L114.9,542.6 L117.5,539.1 L121.5,537.8 L125.4,539.1 L129.4,543.6 L132.0,545.2 L134.7,541.8 L138.6,537.8 L142.6,533.8 L146.5,531.2 L150.5,528.6 L154.5,525.9 L156.3,525.1 L158.4,527.2 L162.4,529.4 L166.3,530.4 L170.3,528.6 L174.3,525.9 L178.2,524.1 L180.3,523.3 L183.5,527.2 L187.5,531.2 L191.4,535.2 L194.9,537.3 L198.0,535.2 L202.0,532.5 L205.9,531.2 L209.9,529.9 L212.5,532.5 L215.2,535.2 L219.1,539.1 L223.1,541.8 L227.1,543.6 L231.0,546.3 L235.0,547.8 L238.9,547.0 L242.9,548.4 L246.9,552.3 L250.8,557.6 L254.8,561.6 L258.7,564.2 L262.7,565.5 L266.7,564.2 L270.6,562.9 L274.6,561.6 L278.5,560.2 L282.5,558.4 L286.5,556.3 L290.4,554.2 L294.4,552.3 L298.3,550.5 L300.0,547.0 L304.0,544.4 L307.9,541.0 L311.9,539.1 L315.8,537.3 L319.8,535.7 L323.8,533.8 L325.1,529.9 L327.7,523.3 L331.7,514.0 L335.6,507.4 L339.6,501.4 L343.6,496.9 L347.5,494.2 L351.5,492.4 L355.4,492.1 L359.4,494.2 L363.4,498.2 L367.3,502.2 L371.3,504.8 L375.2,506.7 L379.2,508.8 L383.2,511.4 L385.8,516.7 L388.4,524.6 L391.1,533.8 L393.7,539.1 L396.4,544.4 L399.0,548.4 L403.0,551.5 L406.9,554.2 L410.4,555.8 L413.5,552.3 L417.5,549.7 L421.5,545.7 L424.1,542.6 L426.7,537.8 L429.4,533.8 L433.3,532.5 L437.3,530.4 L441.3,530.4 L445.2,529.9 L449.2,529.9 L451.8,531.2 L455.8,535.2 L459.7,539.1 L463.7,541.8 L467.7,544.4 L471.6,545.7 L475.6,544.4 L479.5,543.1 L483.5,541.8 L487.5,539.1 L491.4,536.5 L494.1,533.8 L496.7,529.9 L499.3,528.0 L503.3,527.8 L506.5,528.6 L508.6,535.2 L511.2,539.1 L513.9,541.2 L516.5,539.1 L519.1,535.2 L521.8,533.3 L524.4,532.0 L527.1,533.8 L531.0,534.6 L535.0,532.5 L537.6,529.9 L540.8,530.4 L544.2,532.0 L548.2,532.5 L552.1,532.5 L556.1,533.1 L560.1,535.2 L564.0,537.3 L568.0,539.1 L570.6,539.7 L573.3,537.8 L577.2,535.7 L581.2,535.2 L585.1,534.6 L589.1,533.8 L591.7,529.9 L594.4,525.9 L598.3,520.6 L602.3,517.2 L606.3,515.9 L610.2,516.2 L614.2,520.6 L618.2,525.9 L620.0,528.6 L622.6,531.2 L626.6,533.3 L630.6,533.1 L633.2,529.9 L635.8,525.9 L639.8,523.3 L643.8,521.4 L646.4,520.6 L649.0,523.3 L653.0,527.2 L657.0,529.9 L659.6,533.1 L663.6,533.8 L667.5,533.3 L671.5,531.2 L674.1,524.6 L676.8,518.8 L680.7,514.0 L684.7,510.1 L688.6,504.0 L692.6,500.3 L695.2,500.0 L697.9,504.8 L701.8,511.4 L705.8,518.0 L709.8,524.6 L713.7,530.4 L716.4,533.8 L719.0,536.5 L721.7,539.1 L724.3,540.4 L726.9,537.8 L729.6,534.6 L733.5,534.6 L737.5,535.2 L741.5,535.7 L745.4,535.7 L749.4,535.2 L752.0,533.8 L754.7,532.5 L758.6,532.0 L762.6,531.2 L766.5,528.6 L770.5,525.9 L774.5,524.1 L778.4,522.5 L782.4,520.6 L785.0,515.4 L789.0,511.4 L792.9,509.6 L796.4,509.3 L798.2,512.7 L802.2,516.7 L806.1,522.0 L810.1,525.1 L814.1,528.6 L816.7,533.8 L819.3,540.4 L822.0,544.4 L825.9,546.3 L829.9,546.3 L833.9,544.4 L836.5,541.8 L839.1,537.8 L843.1,536.5 L847.1,537.8 L851.0,539.1 L855.0,537.8 L858.9,535.7 L862.9,534.6 L866.9,534.6 L870.8,535.2 L874.8,537.8 L878.7,539.1 L882.7,539.1 L886.7,537.3 L889.3,535.2 L891.9,532.5 L895.9,530.4 L898.5,530.4 L901.2,532.5 L903.8,536.5 L906.5,541.8 L910.4,548.4 L914.4,550.5 L918.3,549.7 L922.3,548.9 L926.3,548.4 L930.2,547.0 L930.2,534.3 Z" fill="#c0c0c0" shape-rendering="crispEdges"/>
<path d="M6 521h1v1h-1zM7 520h1v1h-1zM8 520h1v1h-1zM9 519h1v1h-1zM10 518h1v1h-1zM11 518h1v1h-1zM12 517h1v1h-1zM13 516h1v1h-1zM14 516h1v1h-1zM15 515h1v1h-1zM16 515h1v1h-1zM17 514h1v1h-1zM18 514h1v1h-1zM19 514h1v1h-1zM20 514h1v1h-1zM21 514h1v1h-1zM22 514h1v1h-1zM23 514h1v1h-1zM24 514h1v1h-1zM25 514h1v1h-1zM26 514h1v1h-1zM27 514h1v1h-1zM28 515h1v1h-1zM29 516h1v1h-1zM30 516h1v1h-1zM31 517h1v1h-1zM32 518h1v1h-1zM33 519h1v1h-1zM34 520h1v1h-1zM35 521h1v2h-1zM36 523h1v1h-1zM37 524h1v1h-1zM38 525h1v1h-1zM39 526h1v1h-1zM40 527h1v1h-1zM41 528h1v1h-1zM42 529h1v1h-1zM43 530h1v1h-1zM44 530h1v1h-1zM45 531h1v1h-1zM46 532h1v1h-1zM47 532h1v1h-1zM48 532h1v1h-1zM49 533h1v1h-1zM50 533h1v1h-1zM51 533h1v1h-1zM52 533h1v1h-1zM53 533h1v1h-1zM54 533h1v1h-1zM55 533h1v1h-1zM56 533h1v1h-1zM57 533h1v1h-1zM58 533h1v1h-1zM59 533h1v1h-1zM60 532h1v1h-1zM61 532h1v1h-1zM62 532h1v1h-1zM63 532h1v1h-1zM64 531h1v1h-1zM65 531h1v1h-1zM66 530h1v1h-1zM67 530h1v1h-1zM68 530h1v1h-1zM69 529h1v1h-1zM70 529h1v1h-1zM71 529h1v1h-1zM72 530h1v1h-1zM73 530h1v1h-1zM74 530h1v1h-1zM75 531h1v1h-1zM76 532h1v1h-1zM77 533h1v1h-1zM78 534h1v1h-1zM79 535h1v2h-1zM80 537h1v1h-1zM81 538h1v2h-1zM82 540h1v1h-1zM83 541h1v2h-1zM84 543h1v2h-1zM85 545h1v1h-1zM86 546h1v2h-1zM87 548h1v1h-1zM88 549h1v2h-1zM89 551h1v1h-1zM90 552h1v1h-1zM91 553h1v1h-1zM92 554h1v1h-1zM93 555h1v1h-1zM94 556h1v1h-1zM95 556h1v1h-1zM96 556h1v1h-1zM97 557h1v1h-1zM98 557h1v1h-1zM99 557h1v1h-1zM100 557h1v1h-1zM101 557h1v1h-1zM102 556h1v1h-1zM103 556h1v1h-1zM104 556h1v1h-1zM105 555h1v1h-1zM106 555h1v1h-1zM107 554h1v1h-1zM108 554h1v1h-1zM109 553h1v1h-1zM110 553h1v1h-1zM111 552h1v1h-1zM112 551h1v1h-1zM113 551h1v1h-1zM114 550h1v1h-1zM115 549h1v1h-1zM116 548h1v1h-1zM117 547h1v1h-1zM118 546h1v1h-1zM119 546h1v1h-1zM120 545h1v1h-1zM121 544h1v1h-1zM122 543h1v1h-1zM123 543h1v1h-1zM124 542h1v1h-1zM125 541h1v1h-1zM126 541h1v1h-1zM127 541h1v1h-1zM128 540h1v1h-1zM129 540h1v1h-1zM130 540h1v1h-1zM131 540h1v1h-1zM132 540h1v1h-1zM133 540h1v1h-1zM134 540h1v1h-1zM135 540h1v1h-1zM136 540h1v1h-1zM137 540h1v1h-1zM138 540h1v1h-1zM139 540h1v1h-1zM140 540h1v1h-1zM141 539h1v1h-1zM142 539h1v1h-1zM143 538h1v1h-1zM144 538h1v1h-1zM145 537h1v1h-1zM146 536h1v1h-1zM147 535h1v1h-1zM148 535h1v1h-1zM149 534h1v1h-1zM150 533h1v1h-1zM151 532h1v1h-1zM152 531h1v1h-1zM153 531h1v1h-1zM154 530h1v1h-1zM155 529h1v1h-1zM156 529h1v1h-1zM157 529h1v1h-1zM158 528h1v1h-1zM159 528h1v1h-1zM160 528h1v1h-1zM161 528h1v1h-1zM162 528h1v1h-1zM163 528h1v1h-1zM164 528h1v1h-1zM165 528h1v1h-1zM166 528h1v1h-1zM167 528h1v1h-1zM168 528h1v1h-1zM169 528h1v1h-1zM170 528h1v1h-1zM171 528h1v1h-1zM172 528h1v1h-1zM173 527h1v1h-1zM174 527h1v1h-1zM175 527h1v1h-1zM176 527h1v1h-1zM177 527h1v1h-1zM178 526h1v1h-1zM179 526h1v1h-1zM180 526h1v1h-1zM181 526h1v1h-1zM182 526h1v1h-1zM183 526h1v1h-1zM184 526h1v1h-1zM185 526h1v1h-1zM186 526h1v1h-1zM187 526h1v1h-1zM188 526h1v1h-1zM189 527h1v1h-1zM190 527h1v1h-1zM191 528h1v1h-1zM192 529h1v1h-1zM193 529h1v1h-1zM194 530h1v1h-1zM195 531h1v1h-1zM196 531h1v1h-1zM197 532h1v1h-1zM198 532h1v1h-1zM199 533h1v1h-1zM200 533h1v1h-1zM201 533h1v1h-1zM202 534h1v1h-1zM203 534h1v1h-1zM204 534h1v1h-1zM205 534h1v1h-1zM206 534h1v1h-1zM207 533h1v1h-1zM208 533h1v1h-1zM209 533h1v1h-1zM210 533h1v1h-1zM211 532h1v1h-1zM212 532h1v1h-1zM213 532h1v1h-1zM214 532h1v1h-1zM215 532h1v1h-1zM216 531h1v1h-1zM217 532h1v1h-1zM218 532h1v1h-1zM219 532h1v1h-1zM220 532h1v1h-1zM221 533h1v1h-1zM222 533h1v1h-1zM223 534h1v1h-1zM224 535h1v1h-1zM225 536h1v1h-1zM226 536h1v1h-1zM227 537h1v1h-1zM228 538h1v1h-1zM229 539h1v1h-1zM230 540h1v1h-1zM231 541h1v1h-1zM232 541h1v1h-1zM233 542h1v1h-1zM234 543h1v1h-1zM235 543h1v1h-1zM236 544h1v1h-1zM237 544h1v1h-1zM238 545h1v1h-1zM239 545h1v1h-1zM240 545h1v1h-1zM241 546h1v1h-1zM242 546h1v1h-1zM243 546h1v1h-1zM244 547h1v1h-1zM245 547h1v1h-1zM246 548h1v1h-1zM247 548h1v1h-1zM248 549h1v1h-1zM249 550h1v1h-1zM250 551h1v1h-1zM251 551h1v1h-1zM252 552h1v1h-1zM253 553h1v1h-1zM254 554h1v1h-1zM255 555h1v1h-1zM256 556h1v1h-1zM257 557h1v1h-1zM258 558h1v1h-1zM259 559h1v1h-1zM260 560h1v1h-1zM261 561h1v1h-1zM262 561h1v1h-1zM263 562h1v1h-1zM264 563h1v1h-1zM265 563h1v1h-1zM266 563h1v1h-1zM267 564h1v1h-1zM268 564h1v1h-1zM269 564h1v1h-1zM270 564h1v1h-1zM271 564h1v1h-1zM272 565h1v1h-1zM273 565h1v1h-1zM274 565h1v1h-1zM275 565h1v1h-1zM276 564h1v1h-1zM277 564h1v1h-1zM278 564h1v1h-1zM279 563h1v1h-1zM280 563h1v1h-1zM281 563h1v1h-1zM282 562h1v1h-1zM283 562h1v1h-1zM284 561h1v1h-1zM285 561h1v1h-1zM286 560h1v1h-1zM287 560h1v1h-1zM288 560h1v1h-1zM289 559h1v1h-1zM290 559h1v1h-1zM291 559h1v1h-1zM292 558h1v1h-1zM293 558h1v1h-1zM294 557h1v1h-1zM295 557h1v1h-1zM296 557h1v1h-1zM297 556h1v1h-1zM298 556h1v1h-1zM299 556h1v1h-1zM300 556h1v1h-1zM301 555h1v1h-1zM302 555h1v1h-1zM303 555h1v1h-1zM304 554h1v1h-1zM305 553h1v1h-1zM306 553h1v1h-1zM307 552h1v1h-1zM308 551h1v1h-1zM309 550h1v1h-1zM310 549h1v1h-1zM311 548h1v1h-1zM312 547h1v1h-1zM313 546h1v1h-1zM314 545h1v1h-1zM315 544h1v1h-1zM316 543h1v1h-1zM317 542h1v1h-1zM318 542h1v1h-1zM319 541h1v1h-1zM320 540h1v1h-1zM321 539h1v1h-1zM322 538h1v1h-1zM323 537h1v1h-1zM324 536h1v1h-1zM325 535h1v1h-1zM326 534h1v1h-1zM327 533h1v1h-1zM328 532h1v1h-1zM329 530h1v2h-1zM330 529h1v1h-1zM331 528h1v1h-1zM332 526h1v2h-1zM333 524h1v2h-1zM334 523h1v1h-1zM335 521h1v2h-1zM336 519h1v2h-1zM337 518h1v1h-1zM338 516h1v2h-1zM339 514h1v2h-1zM340 513h1v1h-1zM341 511h1v2h-1zM342 509h1v2h-1zM343 508h1v1h-1zM344 506h1v2h-1zM345 505h1v1h-1zM346 503h1v2h-1zM347 502h1v1h-1zM348 501h1v1h-1zM349 500h1v1h-1zM350 499h1v1h-1zM351 498h1v1h-1zM352 498h1v1h-1zM353 497h1v1h-1zM354 496h1v1h-1zM355 496h1v1h-1zM356 495h1v1h-1zM357 495h1v1h-1zM358 495h1v1h-1zM359 494h1v1h-1zM360 494h1v1h-1zM361 494h1v1h-1zM362 494h1v1h-1zM363 494h1v1h-1zM364 494h1v1h-1zM365 494h1v1h-1zM366 495h1v1h-1zM367 495h1v1h-1zM368 496h1v1h-1zM369 497h1v1h-1zM370 497h1v1h-1zM371 498h1v1h-1zM372 499h1v1h-1zM373 499h1v1h-1zM374 500h1v1h-1zM375 501h1v1h-1zM376 502h1v1h-1zM377 503h1v1h-1zM378 504h1v1h-1zM379 504h1v1h-1zM380 505h1v1h-1zM381 506h1v1h-1zM382 506h1v1h-1zM383 507h1v1h-1zM384 508h1v1h-1zM385 508h1v1h-1zM386 509h1v1h-1zM387 510h1v1h-1zM388 511h1v2h-1zM389 513h1v1h-1zM390 514h1v2h-1zM391 516h1v2h-1zM392 518h1v2h-1zM393 520h1v2h-1zM394 522h1v2h-1zM395 524h1v2h-1zM396 526h1v3h-1zM397 529h1v2h-1zM398 531h1v2h-1zM399 533h1v2h-1zM400 535h1v2h-1zM401 537h1v2h-1zM402 539h1v2h-1zM403 541h1v1h-1zM404 542h1v2h-1zM405 544h1v1h-1zM406 545h1v1h-1zM407 546h1v1h-1zM408 547h1v1h-1zM409 548h1v2h-1zM410 550h1v1h-1zM411 550h1v1h-1zM412 551h1v1h-1zM413 551h1v1h-1zM414 552h1v1h-1zM415 552h1v1h-1zM416 552h1v1h-1zM417 552h1v1h-1zM418 552h1v1h-1zM419 552h1v1h-1zM420 551h1v1h-1zM421 551h1v1h-1zM422 551h1v1h-1zM423 550h1v1h-1zM424 549h1v1h-1zM425 548h1v1h-1zM426 548h1v1h-1zM427 546h1v2h-1zM428 545h1v1h-1zM429 544h1v1h-1zM430 543h1v1h-1zM431 542h1v1h-1zM432 541h1v1h-1zM433 540h1v1h-1zM434 539h1v1h-1zM435 538h1v1h-1zM436 537h1v1h-1zM437 536h1v1h-1zM438 535h1v1h-1zM439 534h1v1h-1zM440 533h1v1h-1zM441 533h1v1h-1zM442 532h1v1h-1zM443 532h1v1h-1zM444 532h1v1h-1zM445 531h1v1h-1zM446 531h1v1h-1zM447 531h1v1h-1zM448 531h1v1h-1zM449 531h1v1h-1zM450 531h1v1h-1zM451 531h1v1h-1zM452 531h1v1h-1zM453 531h1v1h-1zM454 531h1v1h-1zM455 531h1v1h-1zM456 531h1v1h-1zM457 531h1v1h-1zM458 532h1v1h-1zM459 532h1v1h-1zM460 533h1v1h-1zM461 533h1v1h-1zM462 534h1v1h-1zM463 535h1v1h-1zM464 535h1v1h-1zM465 536h1v1h-1zM466 537h1v1h-1zM467 538h1v1h-1zM468 539h1v1h-1zM469 539h1v1h-1zM470 540h1v1h-1zM471 541h1v1h-1zM472 541h1v1h-1zM473 542h1v1h-1zM474 542h1v1h-1zM475 542h1v1h-1zM476 543h1v1h-1zM477 543h1v1h-1zM478 543h1v1h-1zM479 543h1v1h-1zM480 544h1v1h-1zM481 544h1v1h-1zM482 544h1v1h-1zM483 543h1v1h-1zM484 543h1v1h-1zM485 543h1v1h-1zM486 543h1v1h-1zM487 542h1v1h-1zM488 542h1v1h-1zM489 542h1v1h-1zM490 541h1v1h-1zM491 541h1v1h-1zM492 540h1v1h-1zM493 539h1v1h-1zM494 539h1v1h-1zM495 538h1v1h-1zM496 538h1v1h-1zM497 537h1v1h-1zM498 536h1v1h-1zM499 535h1v1h-1zM500 535h1v1h-1zM501 534h1v1h-1zM502 533h1v1h-1zM503 533h1v1h-1zM504 532h1v1h-1zM505 531h1v1h-1zM506 531h1v1h-1zM507 531h1v1h-1zM508 531h1v1h-1zM509 531h1v1h-1zM510 531h1v1h-1zM511 531h1v1h-1zM512 531h1v1h-1zM513 531h1v1h-1zM514 532h1v1h-1zM515 532h1v1h-1zM516 533h1v1h-1zM517 534h1v1h-1zM518 534h1v1h-1zM519 535h1v1h-1zM520 535h1v1h-1zM521 536h1v1h-1zM522 536h1v1h-1zM523 536h1v1h-1zM524 537h1v1h-1zM525 537h1v1h-1zM526 537h1v1h-1zM527 536h1v1h-1zM528 536h1v1h-1zM529 536h1v1h-1zM530 536h1v1h-1zM531 535h1v1h-1zM532 535h1v1h-1zM533 535h1v1h-1zM534 534h1v1h-1zM535 534h1v1h-1zM536 534h1v1h-1zM537 534h1v1h-1zM538 533h1v1h-1zM539 533h1v1h-1zM540 533h1v1h-1zM541 533h1v1h-1zM542 533h1v1h-1zM543 533h1v1h-1zM544 533h1v1h-1zM545 533h1v1h-1zM546 532h1v1h-1zM547 532h1v1h-1zM548 532h1v1h-1zM549 532h1v1h-1zM550 532h1v1h-1zM551 532h1v1h-1zM552 532h1v1h-1zM553 532h1v1h-1zM554 532h1v1h-1zM555 532h1v1h-1zM556 532h1v1h-1zM557 532h1v1h-1zM558 532h1v1h-1zM559 533h1v1h-1zM560 533h1v1h-1zM561 533h1v1h-1zM562 534h1v1h-1zM563 534h1v1h-1zM564 534h1v1h-1zM565 535h1v1h-1zM566 535h1v1h-1zM567 535h1v1h-1zM568 536h1v1h-1zM569 536h1v1h-1zM570 536h1v1h-1zM571 536h1v1h-1zM572 537h1v1h-1zM573 537h1v1h-1zM574 537h1v1h-1zM575 537h1v1h-1zM576 537h1v1h-1zM577 537h1v1h-1zM578 537h1v1h-1zM579 537h1v1h-1zM580 537h1v1h-1zM581 536h1v1h-1zM582 536h1v1h-1zM583 536h1v1h-1zM584 536h1v1h-1zM585 536h1v1h-1zM586 535h1v1h-1zM587 535h1v1h-1zM588 535h1v1h-1zM589 534h1v1h-1zM590 534h1v1h-1zM591 534h1v1h-1zM592 533h1v1h-1zM593 533h1v1h-1zM594 532h1v1h-1zM595 532h1v1h-1zM596 531h1v1h-1zM597 530h1v1h-1zM598 530h1v1h-1zM599 529h1v1h-1zM600 528h1v1h-1zM601 528h1v1h-1zM602 527h1v1h-1zM603 526h1v1h-1zM604 525h1v1h-1zM605 524h1v1h-1zM606 523h1v1h-1zM607 522h1v1h-1zM608 521h1v1h-1zM609 520h1v1h-1zM610 520h1v1h-1zM611 519h1v1h-1zM612 519h1v1h-1zM613 518h1v1h-1zM614 518h1v1h-1zM615 518h1v1h-1zM616 518h1v1h-1zM617 518h1v1h-1zM618 518h1v1h-1zM619 519h1v1h-1zM620 519h1v1h-1zM621 520h1v1h-1zM622 521h1v1h-1zM623 522h1v1h-1zM624 523h1v1h-1zM625 524h1v1h-1zM626 525h1v1h-1zM627 526h1v1h-1zM628 527h1v1h-1zM629 528h1v1h-1zM630 529h1v1h-1zM631 530h1v1h-1zM632 530h1v1h-1zM633 530h1v1h-1zM634 531h1v1h-1zM635 531h1v1h-1zM636 531h1v1h-1zM637 531h1v1h-1zM638 530h1v1h-1zM639 530h1v1h-1zM640 529h1v1h-1zM641 529h1v1h-1zM642 528h1v1h-1zM643 527h1v1h-1zM644 527h1v1h-1zM645 526h1v1h-1zM646 525h1v1h-1zM647 525h1v1h-1zM648 524h1v1h-1zM649 524h1v1h-1zM650 524h1v1h-1zM651 523h1v1h-1zM652 523h1v1h-1zM653 523h1v1h-1zM654 523h1v1h-1zM655 524h1v1h-1zM656 524h1v1h-1zM657 524h1v1h-1zM658 524h1v1h-1zM659 525h1v1h-1zM660 525h1v1h-1zM661 526h1v1h-1zM662 527h1v1h-1zM663 527h1v1h-1zM664 528h1v1h-1zM665 529h1v1h-1zM666 529h1v1h-1zM667 530h1v1h-1zM668 530h1v1h-1zM669 531h1v1h-1zM670 531h1v1h-1zM671 531h1v1h-1zM672 531h1v1h-1zM673 531h1v1h-1zM674 531h1v1h-1zM675 531h1v1h-1zM676 530h1v1h-1zM677 529h1v1h-1zM678 529h1v1h-1zM679 528h1v1h-1zM680 527h1v1h-1zM681 526h1v1h-1zM682 524h1v2h-1zM683 523h1v1h-1zM684 521h1v2h-1zM685 520h1v1h-1zM686 518h1v2h-1zM687 517h1v1h-1zM688 516h1v1h-1zM689 514h1v2h-1zM690 513h1v1h-1zM691 512h1v1h-1zM692 511h1v1h-1zM693 510h1v1h-1zM694 509h1v1h-1zM695 508h1v1h-1zM696 507h1v1h-1zM697 506h1v1h-1zM698 506h1v1h-1zM699 505h1v1h-1zM700 505h1v1h-1zM701 505h1v1h-1zM702 505h1v1h-1zM703 505h1v1h-1zM704 505h1v1h-1zM705 506h1v1h-1zM706 506h1v1h-1zM707 507h1v1h-1zM708 508h1v1h-1zM709 509h1v1h-1zM710 510h1v2h-1zM711 512h1v1h-1zM712 513h1v2h-1zM713 515h1v2h-1zM714 517h1v1h-1zM715 518h1v2h-1zM716 520h1v2h-1zM717 522h1v1h-1zM718 523h1v2h-1zM719 525h1v1h-1zM720 526h1v1h-1zM721 527h1v2h-1zM722 529h1v1h-1zM723 530h1v1h-1zM724 531h1v1h-1zM725 532h1v1h-1zM726 533h1v1h-1zM727 534h1v1h-1zM728 534h1v1h-1zM729 535h1v1h-1zM730 535h1v1h-1zM731 535h1v1h-1zM732 536h1v1h-1zM733 536h1v1h-1zM734 536h1v1h-1zM735 536h1v1h-1zM736 536h1v1h-1zM737 537h1v1h-1zM738 537h1v1h-1zM739 537h1v1h-1zM740 537h1v1h-1zM741 537h1v1h-1zM742 537h1v1h-1zM743 537h1v1h-1zM744 537h1v1h-1zM745 537h1v1h-1zM746 537h1v1h-1zM747 537h1v1h-1zM748 537h1v1h-1zM749 537h1v1h-1zM750 537h1v1h-1zM751 537h1v1h-1zM752 536h1v1h-1zM753 536h1v1h-1zM754 536h1v1h-1zM755 536h1v1h-1zM756 535h1v1h-1zM757 535h1v1h-1zM758 535h1v1h-1zM759 534h1v1h-1zM760 534h1v1h-1zM761 534h1v1h-1zM762 533h1v1h-1zM763 533h1v1h-1zM764 532h1v1h-1zM765 532h1v1h-1zM766 532h1v1h-1zM767 531h1v1h-1zM768 530h1v1h-1zM769 530h1v1h-1zM770 529h1v1h-1zM771 529h1v1h-1zM772 528h1v1h-1zM773 528h1v1h-1zM774 528h1v1h-1zM775 527h1v1h-1zM776 527h1v1h-1zM777 526h1v1h-1zM778 526h1v1h-1zM779 525h1v1h-1zM780 525h1v1h-1zM781 525h1v1h-1zM782 524h1v1h-1zM783 523h1v1h-1zM784 523h1v1h-1zM785 522h1v1h-1zM786 521h1v1h-1zM787 521h1v1h-1zM788 520h1v1h-1zM789 519h1v1h-1zM790 518h1v1h-1zM791 517h1v1h-1zM792 516h1v1h-1zM793 516h1v1h-1zM794 515h1v1h-1zM795 514h1v1h-1zM796 514h1v1h-1zM797 513h1v1h-1zM798 512h1v1h-1zM799 512h1v1h-1zM800 512h1v1h-1zM801 512h1v1h-1zM802 512h1v1h-1zM803 512h1v1h-1zM804 512h1v1h-1zM805 512h1v1h-1zM806 512h1v1h-1zM807 513h1v1h-1zM808 514h1v1h-1zM809 514h1v1h-1zM810 515h1v1h-1zM811 516h1v1h-1zM812 517h1v1h-1zM813 518h1v1h-1zM814 519h1v2h-1zM815 521h1v1h-1zM816 522h1v1h-1zM817 523h1v2h-1zM818 525h1v2h-1zM819 527h1v1h-1zM820 528h1v2h-1zM821 530h1v1h-1zM822 531h1v2h-1zM823 533h1v1h-1zM824 534h1v1h-1zM825 535h1v2h-1zM826 537h1v1h-1zM827 538h1v1h-1zM828 539h1v1h-1zM829 540h1v1h-1zM830 540h1v1h-1zM831 541h1v1h-1zM832 542h1v1h-1zM833 542h1v1h-1zM834 543h1v1h-1zM835 543h1v1h-1zM836 543h1v1h-1zM837 544h1v1h-1zM838 544h1v1h-1zM839 543h1v1h-1zM840 543h1v1h-1zM841 542h1v1h-1zM842 542h1v1h-1zM843 541h1v1h-1zM844 541h1v1h-1zM845 540h1v1h-1zM846 540h1v1h-1zM847 539h1v1h-1zM848 539h1v1h-1zM849 538h1v1h-1zM850 538h1v1h-1zM851 538h1v1h-1zM852 538h1v1h-1zM853 537h1v1h-1zM854 537h1v1h-1zM855 537h1v1h-1zM856 537h1v1h-1zM857 537h1v1h-1zM858 537h1v1h-1zM859 537h1v1h-1zM860 537h1v1h-1zM861 537h1v1h-1zM862 537h1v1h-1zM863 536h1v1h-1zM864 536h1v1h-1zM865 536h1v1h-1zM866 536h1v1h-1zM867 536h1v1h-1zM868 536h1v1h-1zM869 535h1v1h-1zM870 535h1v1h-1zM871 535h1v1h-1zM872 535h1v1h-1zM873 535h1v1h-1zM874 535h1v1h-1zM875 535h1v1h-1zM876 535h1v1h-1zM877 535h1v1h-1zM878 536h1v1h-1zM879 536h1v1h-1zM880 536h1v1h-1zM881 536h1v1h-1zM882 536h1v1h-1zM883 537h1v1h-1zM884 537h1v1h-1zM885 537h1v1h-1zM886 537h1v1h-1zM887 537h1v1h-1zM888 537h1v1h-1zM889 537h1v1h-1zM890 537h1v1h-1zM891 536h1v1h-1zM892 536h1v1h-1zM893 536h1v1h-1zM894 535h1v1h-1zM895 535h1v1h-1zM896 534h1v1h-1zM897 534h1v1h-1zM898 534h1v1h-1zM899 534h1v1h-1zM900 533h1v1h-1zM901 533h1v1h-1zM902 533h1v1h-1zM903 533h1v1h-1zM904 533h1v1h-1zM905 533h1v1h-1zM906 533h1v1h-1zM907 533h1v1h-1zM908 534h1v1h-1zM909 534h1v1h-1zM910 535h1v1h-1zM911 536h1v1h-1zM912 537h1v1h-1zM913 538h1v1h-1zM914 539h1v1h-1zM915 540h1v1h-1zM916 541h1v1h-1zM917 542h1v1h-1zM918 543h1v1h-1zM919 544h1v1h-1zM920 545h1v1h-1zM921 545h1v1h-1zM922 546h1v1h-1zM923 547h1v1h-1zM924 547h1v1h-1zM925 547h1v1h-1zM926 548h1v1h-1zM927 548h1v1h-1zM928 548h1v1h-1zM929 549h1v1h-1zM930 549h1v1h-1z" fill="#ff0000" shape-rendering="crispEdges"/>
<text x="10.3" y="500" font-size="10.1" fill="#000" textLength="65" lengthAdjust="spacingAndGlyphs" stroke="#000" stroke-width="0.15" >MACD(12,26,9)</text>
<text x="79" y="500" font-size="10.1" fill="#000" textLength="40.3" lengthAdjust="spacingAndGlyphs" stroke="#000" stroke-width="0.15" >-0.001139</text>
<text x="123.2" y="500" font-size="10.1" fill="#000" textLength="40.3" lengthAdjust="spacingAndGlyphs" stroke="#000" stroke-width="0.15" >-0.001331</text>
<rect x="1169" y="489" width="2" height="1" fill="#000" />
<text x="1172" y="498" font-size="10.1" fill="#000" textLength="33" lengthAdjust="spacingAndGlyphs" stroke="#000" stroke-width="0.15" >0.00431</text>
<rect x="1169" y="534" width="2" height="1" fill="#000" />
<text x="1172" y="538" font-size="10.1" fill="#000" textLength="18" lengthAdjust="spacingAndGlyphs" stroke="#000" stroke-width="0.15" >0.00</text>
<rect x="1169" y="570" width="2" height="1" fill="#000" />
<text x="1172.3" y="568" font-size="10.1" fill="#000" textLength="41" lengthAdjust="spacingAndGlyphs" stroke="#000" stroke-width="0.15" >-0.003405</text>
<line x1="6" y1="600.5" x2="1168" y2="600.5" stroke="#c0c0c0" stroke-width="1" stroke-dasharray="3,3" shape-rendering="crispEdges"/>
<line x1="6" y1="635.5" x2="1168" y2="635.5" stroke="#c0c0c0" stroke-width="1" stroke-dasharray="3,3" shape-rendering="crispEdges"/>
<path d="M6 599h1v1h-1zM7 599h1v1h-1zM8 599h1v1h-1zM9 599h1v1h-1zM10 600h1v1h-1zM11 601h1v2h-1zM12 603h1v2h-1zM13 605h1v2h-1zM14 607h1v1h-1zM15 606h1v1h-1zM16 604h1v2h-1zM17 603h1v1h-1zM18 603h1v1h-1zM19 602h1v1h-1zM20 602h1v1h-1zM21 603h1v1h-1zM22 603h1v1h-1zM23 602h1v1h-1zM24 602h1v5h-1zM25 607h1v5h-1zM26 612h1v4h-1zM27 616h1v3h-1zM28 619h1v3h-1zM29 622h1v2h-1zM30 622h1v3h-1zM31 620h1v2h-1zM32 619h1v2h-1zM33 621h1v1h-1zM34 622h1v1h-1zM35 621h1v1h-1zM36 620h1v1h-1zM37 620h1v1h-1zM38 620h1v1h-1zM39 621h1v1h-1zM40 620h1v1h-1zM41 620h1v1h-1zM42 620h1v1h-1zM43 620h1v1h-1zM44 620h1v2h-1zM45 622h1v1h-1zM46 620h1v4h-1zM47 616h1v4h-1zM48 615h1v1h-1zM49 614h1v1h-1zM50 613h1v1h-1zM51 612h1v1h-1zM52 612h1v1h-1zM53 611h1v1h-1zM54 611h1v1h-1zM55 611h1v1h-1zM56 612h1v2h-1zM57 614h1v1h-1zM58 615h1v2h-1zM59 617h1v1h-1zM60 616h1v2h-1zM61 614h1v2h-1zM62 612h1v2h-1zM63 611h1v1h-1zM64 610h1v1h-1zM65 609h1v1h-1zM66 609h1v1h-1zM67 609h1v1h-1zM68 608h1v2h-1zM69 610h1v7h-1zM70 617h1v7h-1zM71 624h1v7h-1zM72 631h1v2h-1zM73 633h1v1h-1zM74 634h1v1h-1zM75 634h1v1h-1zM76 634h1v1h-1zM77 634h1v1h-1zM78 634h1v1h-1zM79 634h1v1h-1zM80 633h1v1h-1zM81 632h1v1h-1zM82 632h1v1h-1zM83 633h1v1h-1zM84 631h1v2h-1zM85 630h1v1h-1zM86 631h1v1h-1zM87 632h1v1h-1zM88 633h1v1h-1zM89 632h1v1h-1zM90 631h1v1h-1zM91 630h1v2h-1zM92 628h1v2h-1zM93 627h1v1h-1zM94 626h1v1h-1zM95 625h1v2h-1zM96 627h1v1h-1zM97 627h1v1h-1zM98 626h1v1h-1zM99 626h1v1h-1zM100 626h1v1h-1zM101 627h1v1h-1zM102 628h1v1h-1zM103 628h1v1h-1zM104 626h1v2h-1zM105 625h1v1h-1zM106 623h1v2h-1zM107 622h1v1h-1zM108 620h1v2h-1zM109 619h1v1h-1zM110 618h1v1h-1zM111 618h1v1h-1zM112 615h1v4h-1zM113 614h1v1h-1zM114 613h1v1h-1zM115 614h1v1h-1zM116 614h1v1h-1zM117 614h1v1h-1zM118 613h1v1h-1zM119 613h1v1h-1zM120 613h1v4h-1zM121 617h1v3h-1zM122 620h1v2h-1zM123 622h1v1h-1zM124 623h1v2h-1zM125 625h1v1h-1zM126 626h1v1h-1zM127 626h1v1h-1zM128 626h1v1h-1zM129 627h1v1h-1zM130 628h1v2h-1zM131 629h1v2h-1zM132 622h1v7h-1zM133 617h1v5h-1zM134 614h1v3h-1zM135 613h1v1h-1zM136 613h1v1h-1zM137 614h1v1h-1zM138 614h1v1h-1zM139 613h1v1h-1zM140 613h1v1h-1zM141 614h1v1h-1zM142 614h1v1h-1zM143 613h1v1h-1zM144 613h1v1h-1zM145 612h1v1h-1zM146 612h1v1h-1zM147 612h1v1h-1zM148 611h1v1h-1zM149 611h1v1h-1zM150 611h1v1h-1zM151 611h1v1h-1zM152 611h1v1h-1zM153 610h1v1h-1zM154 609h1v1h-1zM155 608h1v1h-1zM156 608h1v7h-1zM157 615h1v3h-1zM158 618h1v1h-1zM159 618h1v1h-1zM160 618h1v1h-1zM161 618h1v1h-1zM162 618h1v1h-1zM163 616h1v2h-1zM164 615h1v1h-1zM165 616h1v2h-1zM166 618h1v1h-1zM167 618h1v1h-1zM168 615h1v3h-1zM169 611h1v4h-1zM170 609h1v2h-1zM171 608h1v1h-1zM172 609h1v1h-1zM173 609h1v1h-1zM174 609h1v1h-1zM175 609h1v1h-1zM176 609h1v1h-1zM177 609h1v1h-1zM178 609h1v1h-1zM179 608h1v1h-1zM180 609h1v5h-1zM181 614h1v4h-1zM182 618h1v2h-1zM183 620h1v1h-1zM184 621h1v1h-1zM185 622h1v1h-1zM186 623h1v1h-1zM187 622h1v1h-1zM188 622h1v1h-1zM189 622h1v1h-1zM190 622h1v1h-1zM191 621h1v1h-1zM192 622h1v1h-1zM193 623h1v1h-1zM194 618h1v5h-1zM195 616h1v2h-1zM196 615h1v1h-1zM197 614h1v1h-1zM198 615h1v1h-1zM199 616h1v1h-1zM200 615h1v1h-1zM201 614h1v1h-1zM202 613h1v1h-1zM203 612h1v1h-1zM204 612h1v1h-1zM205 612h1v1h-1zM206 611h1v1h-1zM207 611h1v1h-1zM208 611h1v1h-1zM209 612h1v3h-1zM210 615h1v1h-1zM211 616h1v1h-1zM212 617h1v1h-1zM213 618h1v2h-1zM214 620h1v1h-1zM215 621h1v2h-1zM216 623h1v2h-1zM217 625h1v2h-1zM218 627h1v1h-1zM219 628h1v1h-1zM220 629h1v1h-1zM221 629h1v1h-1zM222 629h1v1h-1zM223 629h1v1h-1zM224 628h1v1h-1zM225 624h1v4h-1zM226 619h1v5h-1zM227 618h1v3h-1zM228 621h1v4h-1zM229 625h1v3h-1zM230 628h1v1h-1zM231 629h1v1h-1zM232 628h1v1h-1zM233 628h1v1h-1zM234 627h1v1h-1zM235 626h1v1h-1zM236 625h1v1h-1zM237 625h1v1h-1zM238 624h1v1h-1zM239 622h1v2h-1zM240 621h1v1h-1zM241 620h1v1h-1zM242 620h1v2h-1zM243 622h1v5h-1zM244 627h1v3h-1zM245 630h1v3h-1zM246 633h1v1h-1zM247 634h1v1h-1zM248 635h1v1h-1zM249 635h1v1h-1zM250 636h1v1h-1zM251 636h1v1h-1zM252 637h1v1h-1zM253 638h1v1h-1zM254 639h1v1h-1zM255 639h1v1h-1zM256 640h1v1h-1zM257 640h1v1h-1zM258 639h1v1h-1zM259 638h1v1h-1zM260 637h1v1h-1zM261 635h1v2h-1zM262 634h1v1h-1zM263 635h1v1h-1zM264 636h1v1h-1zM265 635h1v1h-1zM266 634h1v1h-1zM267 633h1v1h-1zM268 633h1v1h-1zM269 633h1v1h-1zM270 633h1v1h-1zM271 634h1v1h-1zM272 634h1v1h-1zM273 635h1v1h-1zM274 635h1v1h-1zM275 636h1v1h-1zM276 636h1v1h-1zM277 636h1v1h-1zM278 635h1v1h-1zM279 634h1v1h-1zM280 633h1v1h-1zM281 632h1v1h-1zM282 631h1v1h-1zM283 631h1v1h-1zM284 632h1v1h-1zM285 631h1v1h-1zM286 630h1v1h-1zM287 630h1v3h-1zM288 633h1v1h-1zM289 634h1v1h-1zM290 632h1v2h-1zM291 631h1v1h-1zM292 630h1v1h-1zM293 629h1v1h-1zM294 630h1v2h-1zM295 632h1v1h-1zM296 632h1v1h-1zM297 631h1v1h-1zM298 629h1v3h-1zM299 628h1v1h-1zM300 628h1v3h-1zM301 631h1v1h-1zM302 623h1v8h-1zM303 619h1v4h-1zM304 617h1v2h-1zM305 616h1v1h-1zM306 615h1v1h-1zM307 614h1v1h-1zM308 614h1v1h-1zM309 613h1v1h-1zM310 614h1v1h-1zM311 614h1v1h-1zM312 614h1v1h-1zM313 614h1v1h-1zM314 615h1v1h-1zM315 614h1v1h-1zM316 614h1v2h-1zM317 616h1v1h-1zM318 616h1v2h-1zM319 614h1v2h-1zM320 613h1v1h-1zM321 612h1v1h-1zM322 612h1v1h-1zM323 610h1v2h-1zM324 604h1v6h-1zM325 600h1v4h-1zM326 599h1v1h-1zM327 597h1v2h-1zM328 596h1v1h-1zM329 594h1v2h-1zM330 593h1v1h-1zM331 594h1v1h-1zM332 595h1v1h-1zM333 594h1v1h-1zM334 593h1v1h-1zM335 592h1v1h-1zM336 591h1v1h-1zM337 590h1v1h-1zM338 589h1v1h-1zM339 590h1v1h-1zM340 590h1v1h-1zM341 590h1v1h-1zM342 590h1v1h-1zM343 590h1v1h-1zM344 590h1v1h-1zM345 590h1v1h-1zM346 590h1v1h-1zM347 590h1v1h-1zM348 589h1v1h-1zM349 589h1v1h-1zM350 588h1v1h-1zM351 588h1v1h-1zM352 588h1v1h-1zM353 588h1v1h-1zM354 589h1v1h-1zM355 590h1v1h-1zM356 590h1v1h-1zM357 590h1v1h-1zM358 589h1v1h-1zM359 589h1v1h-1zM360 590h1v4h-1zM361 594h1v5h-1zM362 599h1v1h-1zM363 600h1v1h-1zM364 600h1v1h-1zM365 600h1v1h-1zM366 600h1v1h-1zM367 600h1v1h-1zM368 601h1v1h-1zM369 602h1v1h-1zM370 602h1v1h-1zM371 601h1v1h-1zM372 600h1v1h-1zM373 599h1v1h-1zM374 598h1v1h-1zM375 598h1v1h-1zM376 597h1v1h-1zM377 597h1v1h-1zM378 597h1v1h-1zM379 598h1v1h-1zM380 599h1v1h-1zM381 600h1v1h-1zM382 601h1v4h-1zM383 605h1v5h-1zM384 610h1v5h-1zM385 615h1v6h-1zM386 621h1v4h-1zM387 625h1v4h-1zM388 629h1v1h-1zM389 630h1v1h-1zM390 631h1v1h-1zM391 631h1v1h-1zM392 629h1v2h-1zM393 628h1v2h-1zM394 630h1v3h-1zM395 633h1v2h-1zM396 635h1v1h-1zM397 636h1v1h-1zM398 636h1v2h-1zM399 635h1v1h-1zM400 634h1v1h-1zM401 633h1v1h-1zM402 632h1v1h-1zM403 631h1v1h-1zM404 630h1v1h-1zM405 629h1v1h-1zM406 630h1v1h-1zM407 631h1v1h-1zM408 632h1v1h-1zM409 630h1v2h-1zM410 627h1v3h-1zM411 623h1v4h-1zM412 622h1v1h-1zM413 621h1v1h-1zM414 621h1v1h-1zM415 621h1v1h-1zM416 621h1v1h-1zM417 621h1v1h-1zM418 621h1v1h-1zM419 622h1v1h-1zM420 620h1v3h-1zM421 616h1v4h-1zM422 614h1v2h-1zM423 612h1v2h-1zM424 611h1v3h-1zM425 614h1v1h-1zM426 612h1v4h-1zM427 610h1v2h-1zM428 609h1v1h-1zM429 608h1v2h-1zM430 610h1v5h-1zM431 615h1v2h-1zM432 617h1v1h-1zM433 616h1v1h-1zM434 615h1v1h-1zM435 614h1v1h-1zM436 613h1v1h-1zM437 612h1v1h-1zM438 613h1v1h-1zM439 614h1v2h-1zM440 616h1v1h-1zM441 617h1v1h-1zM442 617h1v1h-1zM443 616h1v1h-1zM444 615h1v1h-1zM445 615h1v1h-1zM446 615h1v1h-1zM447 615h1v1h-1zM448 615h1v1h-1zM449 615h1v1h-1zM450 616h1v2h-1zM451 618h1v1h-1zM452 619h1v1h-1zM453 619h1v1h-1zM454 618h1v1h-1zM455 619h1v3h-1zM456 622h1v3h-1zM457 625h1v1h-1zM458 626h1v1h-1zM459 625h1v1h-1zM460 625h1v1h-1zM461 626h1v1h-1zM462 627h1v1h-1zM463 626h1v1h-1zM464 625h1v1h-1zM465 625h1v1h-1zM466 625h1v1h-1zM467 625h1v1h-1zM468 626h1v1h-1zM469 626h1v1h-1zM470 626h1v1h-1zM471 626h1v1h-1zM472 625h1v1h-1zM473 625h1v1h-1zM474 624h1v2h-1zM475 620h1v4h-1zM476 619h1v1h-1zM477 618h1v2h-1zM478 620h1v1h-1zM479 621h1v1h-1zM480 621h1v1h-1zM481 620h1v1h-1zM482 620h1v1h-1zM483 621h1v1h-1zM484 621h1v1h-1zM485 621h1v1h-1zM486 621h1v1h-1zM487 620h1v1h-1zM488 619h1v1h-1zM489 618h1v1h-1zM490 615h1v3h-1zM491 612h1v3h-1zM492 608h1v4h-1zM493 606h1v2h-1zM494 605h1v1h-1zM495 606h1v1h-1zM496 607h1v1h-1zM497 608h1v1h-1zM498 608h1v1h-1zM499 609h1v1h-1zM500 610h1v2h-1zM501 612h1v1h-1zM502 612h1v1h-1zM503 612h1v1h-1zM504 611h1v2h-1zM505 613h1v2h-1zM506 615h1v4h-1zM507 619h1v5h-1zM508 624h1v2h-1zM509 626h1v2h-1zM510 628h1v1h-1zM511 629h1v2h-1zM512 630h1v2h-1zM513 627h1v3h-1zM514 623h1v4h-1zM515 620h1v3h-1zM516 617h1v3h-1zM517 615h1v2h-1zM518 613h1v2h-1zM519 612h1v1h-1zM520 612h1v1h-1zM521 611h1v1h-1zM522 611h1v1h-1zM523 612h1v1h-1zM524 613h1v3h-1zM525 616h1v3h-1zM526 619h1v1h-1zM527 620h1v1h-1zM528 621h1v2h-1zM529 623h1v1h-1zM530 619h1v5h-1zM531 615h1v4h-1zM532 614h1v1h-1zM533 615h1v1h-1zM534 614h1v2h-1zM535 613h1v1h-1zM536 612h1v1h-1zM537 611h1v1h-1zM538 611h1v2h-1zM539 613h1v2h-1zM540 615h1v2h-1zM541 617h1v1h-1zM542 618h1v1h-1zM543 619h1v1h-1zM544 620h1v1h-1zM545 620h1v1h-1zM546 619h1v1h-1zM547 618h1v1h-1zM548 617h1v1h-1zM549 617h1v1h-1zM550 617h1v1h-1zM551 617h1v1h-1zM552 616h1v1h-1zM553 616h1v1h-1zM554 616h1v1h-1zM555 616h1v1h-1zM556 617h1v1h-1zM557 618h1v2h-1zM558 620h1v1h-1zM559 621h1v1h-1zM560 622h1v1h-1zM561 622h1v1h-1zM562 621h1v1h-1zM563 620h1v1h-1zM564 621h1v1h-1zM565 622h1v1h-1zM566 623h1v1h-1zM567 622h1v1h-1zM568 622h1v1h-1zM569 622h1v1h-1zM570 622h1v2h-1zM571 620h1v2h-1zM572 618h1v2h-1zM573 617h1v1h-1zM574 615h1v2h-1zM575 614h1v1h-1zM576 613h1v1h-1zM577 613h1v1h-1zM578 613h1v1h-1zM579 613h1v1h-1zM580 614h1v2h-1zM581 616h1v2h-1zM582 618h1v3h-1zM583 621h1v1h-1zM584 621h1v1h-1zM585 620h1v1h-1zM586 619h1v1h-1zM587 619h1v1h-1zM588 617h1v3h-1zM589 614h1v3h-1zM590 611h1v3h-1zM591 608h1v3h-1zM592 606h1v2h-1zM593 604h1v2h-1zM594 603h1v2h-1zM595 605h1v1h-1zM596 605h1v2h-1zM597 604h1v1h-1zM598 603h1v1h-1zM599 602h1v1h-1zM600 601h1v1h-1zM601 601h1v1h-1zM602 600h1v1h-1zM603 599h1v1h-1zM604 599h1v1h-1zM605 599h1v1h-1zM606 599h1v2h-1zM607 601h1v2h-1zM608 603h1v3h-1zM609 606h1v2h-1zM610 608h1v3h-1zM611 611h1v1h-1zM612 612h1v2h-1zM613 614h1v1h-1zM614 615h1v2h-1zM615 617h1v2h-1zM616 619h1v2h-1zM617 621h1v1h-1zM618 622h1v1h-1zM619 622h1v1h-1zM620 622h1v1h-1zM621 622h1v1h-1zM622 623h1v1h-1zM623 622h1v1h-1zM624 622h1v1h-1zM625 620h1v2h-1zM626 619h1v1h-1zM627 618h1v1h-1zM628 617h1v1h-1zM629 616h1v1h-1zM630 614h1v2h-1zM631 612h1v2h-1zM632 609h1v3h-1zM633 606h1v3h-1zM634 602h1v4h-1zM635 600h1v2h-1zM636 599h1v7h-1zM637 606h1v3h-1zM638 609h1v1h-1zM639 609h1v1h-1zM640 608h1v1h-1zM641 607h1v1h-1zM642 606h1v1h-1zM643 606h1v1h-1zM644 606h1v1h-1zM645 607h1v1h-1zM646 608h1v1h-1zM647 609h1v1h-1zM648 609h1v3h-1zM649 612h1v3h-1zM650 615h1v1h-1zM651 616h1v1h-1zM652 617h1v1h-1zM653 617h1v1h-1zM654 617h1v1h-1zM655 617h1v1h-1zM656 617h1v1h-1zM657 616h1v1h-1zM658 617h1v4h-1zM659 621h1v4h-1zM660 624h1v2h-1zM661 622h1v2h-1zM662 620h1v2h-1zM663 619h1v1h-1zM664 618h1v1h-1zM665 617h1v1h-1zM666 617h1v1h-1zM667 616h1v1h-1zM668 614h1v2h-1zM669 612h1v2h-1zM670 609h1v3h-1zM671 605h1v4h-1zM672 603h1v2h-1zM673 601h1v2h-1zM674 600h1v1h-1zM675 601h1v3h-1zM676 604h1v1h-1zM677 602h1v2h-1zM678 601h1v1h-1zM679 601h1v1h-1zM680 600h1v1h-1zM681 601h1v2h-1zM682 603h1v1h-1zM683 604h1v1h-1zM684 603h1v2h-1zM685 601h1v2h-1zM686 600h1v1h-1zM687 598h1v2h-1zM688 597h1v1h-1zM689 596h1v1h-1zM690 596h1v1h-1zM691 595h1v1h-1zM692 595h1v1h-1zM693 596h1v1h-1zM694 597h1v2h-1zM695 599h1v3h-1zM696 602h1v4h-1zM697 606h1v4h-1zM698 610h1v1h-1zM699 611h1v1h-1zM700 612h1v1h-1zM701 612h1v1h-1zM702 613h1v1h-1zM703 613h1v1h-1zM704 614h1v1h-1zM705 614h1v1h-1zM706 615h1v2h-1zM707 617h1v3h-1zM708 620h1v2h-1zM709 622h1v1h-1zM710 623h1v1h-1zM711 624h1v1h-1zM712 624h1v1h-1zM713 625h1v1h-1zM714 624h1v1h-1zM715 623h1v1h-1zM716 622h1v1h-1zM717 621h1v1h-1zM718 621h1v2h-1zM719 623h1v2h-1zM720 625h1v1h-1zM721 625h1v1h-1zM722 625h1v1h-1zM723 625h1v1h-1zM724 618h1v7h-1zM725 616h1v2h-1zM726 615h1v1h-1zM727 614h1v1h-1zM728 613h1v1h-1zM729 614h1v1h-1zM730 614h1v2h-1zM731 616h1v2h-1zM732 618h1v3h-1zM733 621h1v3h-1zM734 623h1v2h-1zM735 621h1v2h-1zM736 620h1v1h-1zM737 619h1v1h-1zM738 619h1v1h-1zM739 618h1v1h-1zM740 618h1v1h-1zM741 617h1v1h-1zM742 617h1v1h-1zM743 618h1v4h-1zM744 621h1v2h-1zM745 619h1v2h-1zM746 618h1v1h-1zM747 617h1v1h-1zM748 617h1v1h-1zM749 616h1v1h-1zM750 615h1v1h-1zM751 614h1v1h-1zM752 613h1v1h-1zM753 612h1v1h-1zM754 611h1v1h-1zM755 612h1v1h-1zM756 613h1v1h-1zM757 614h1v1h-1zM758 615h1v1h-1zM759 615h1v1h-1zM760 616h1v1h-1zM761 616h1v1h-1zM762 616h1v1h-1zM763 615h1v1h-1zM764 613h1v2h-1zM765 612h1v1h-1zM766 611h1v1h-1zM767 610h1v1h-1zM768 608h1v2h-1zM769 607h1v1h-1zM770 606h1v1h-1zM771 606h1v1h-1zM772 606h1v2h-1zM773 608h1v1h-1zM774 607h1v1h-1zM775 607h1v1h-1zM776 606h1v1h-1zM777 606h1v1h-1zM778 606h1v1h-1zM779 606h1v1h-1zM780 604h1v3h-1zM781 601h1v3h-1zM782 598h1v3h-1zM783 596h1v2h-1zM784 595h1v1h-1zM785 594h1v1h-1zM786 594h1v2h-1zM787 596h1v2h-1zM788 598h1v1h-1zM789 599h1v1h-1zM790 599h1v1h-1zM791 598h1v1h-1zM792 597h1v1h-1zM793 597h1v2h-1zM794 599h1v3h-1zM795 602h1v4h-1zM796 606h1v3h-1zM797 609h1v3h-1zM798 612h1v1h-1zM799 612h1v1h-1zM800 612h1v1h-1zM801 611h1v1h-1zM802 610h1v1h-1zM803 609h1v4h-1zM804 613h1v4h-1zM805 617h1v4h-1zM806 621h1v1h-1zM807 620h1v1h-1zM808 619h1v1h-1zM809 618h1v1h-1zM810 617h1v1h-1zM811 616h1v1h-1zM812 617h1v1h-1zM813 618h1v1h-1zM814 619h1v3h-1zM815 622h1v3h-1zM816 625h1v5h-1zM817 630h1v2h-1zM818 631h1v2h-1zM819 630h1v1h-1zM820 629h1v1h-1zM821 628h1v1h-1zM822 627h1v1h-1zM823 625h1v2h-1zM824 624h1v1h-1zM825 624h1v1h-1zM826 623h1v1h-1zM827 622h1v1h-1zM828 622h1v1h-1zM829 621h1v1h-1zM830 621h1v1h-1zM831 621h1v1h-1zM832 621h1v1h-1zM833 619h1v2h-1zM834 618h1v1h-1zM835 617h1v1h-1zM836 616h1v1h-1zM837 614h1v2h-1zM838 613h1v1h-1zM839 612h1v1h-1zM840 613h1v2h-1zM841 615h1v2h-1zM842 617h1v1h-1zM843 618h1v2h-1zM844 620h1v1h-1zM845 621h1v1h-1zM846 620h1v1h-1zM847 619h1v1h-1zM848 618h1v1h-1zM849 618h1v1h-1zM850 618h1v2h-1zM851 620h1v1h-1zM852 621h1v1h-1zM853 622h1v1h-1zM854 621h1v3h-1zM855 619h1v2h-1zM856 618h1v1h-1zM857 616h1v2h-1zM858 615h1v1h-1zM859 614h1v1h-1zM860 613h1v1h-1zM861 612h1v1h-1zM862 611h1v1h-1zM863 612h1v2h-1zM864 614h1v2h-1zM865 616h1v2h-1zM866 618h1v2h-1zM867 620h1v1h-1zM868 621h1v1h-1zM869 622h1v1h-1zM870 620h1v3h-1zM871 619h1v1h-1zM872 618h1v2h-1zM873 620h1v1h-1zM874 621h1v1h-1zM875 622h1v1h-1zM876 622h1v1h-1zM877 622h1v1h-1zM878 623h1v1h-1zM879 621h1v2h-1zM880 620h1v1h-1zM881 619h1v1h-1zM882 618h1v1h-1zM883 617h1v1h-1zM884 618h1v1h-1zM885 618h1v1h-1zM886 619h1v1h-1zM887 618h1v2h-1zM888 614h1v4h-1zM889 612h1v2h-1zM890 611h1v1h-1zM891 610h1v1h-1zM892 609h1v1h-1zM893 608h1v1h-1zM894 608h1v3h-1zM895 611h1v2h-1zM896 613h1v1h-1zM897 614h1v1h-1zM898 615h1v2h-1zM899 617h1v2h-1zM900 619h1v2h-1zM901 621h1v2h-1zM902 623h1v2h-1zM903 625h1v2h-1zM904 627h1v2h-1zM905 629h1v2h-1zM906 630h1v2h-1zM907 629h1v1h-1zM908 629h1v1h-1zM909 630h1v2h-1zM910 632h1v2h-1zM911 634h1v3h-1zM912 634h1v4h-1zM913 630h1v4h-1zM914 629h1v1h-1zM915 627h1v2h-1zM916 626h1v1h-1zM917 625h1v1h-1zM918 625h1v1h-1zM919 624h1v1h-1zM920 624h1v1h-1zM921 625h1v1h-1zM922 625h1v1h-1zM923 624h1v1h-1zM924 622h1v2h-1zM925 620h1v2h-1zM926 619h1v1h-1zM927 620h1v2h-1zM928 622h1v2h-1zM929 624h1v1h-1zM930 625h1v1h-1z" fill="#1e90ff" shape-rendering="crispEdges"/>
<text x="10.5" y="586" font-size="10.1" fill="#000" textLength="67.5" lengthAdjust="spacingAndGlyphs" stroke="#000" stroke-width="0.15" >RSI(14) 41.0077</text>
<rect x="1169" y="575" width="2" height="1" fill="#000" />
<text x="1172.3" y="584" font-size="10.1" fill="#000" textLength="14.7" lengthAdjust="spacingAndGlyphs" stroke="#000" stroke-width="0.15" >100</text>
<text x="1171.4" y="604" font-size="10.1" fill="#000" textLength="9.6" lengthAdjust="spacingAndGlyphs" stroke="#000" stroke-width="0.15" >70</text>
<text x="1171.4" y="639" font-size="10.1" fill="#000" textLength="9.6" lengthAdjust="spacingAndGlyphs" stroke="#000" stroke-width="0.15" >30</text>
<rect x="1169" y="660" width="2" height="1" fill="#000" />
<text x="1172" y="658" font-size="10.1" fill="#000" textLength="4.7" lengthAdjust="spacingAndGlyphs" stroke="#000" stroke-width="0.15" >0</text>
<rect x="6" y="662" width="1" height="3" fill="#000" />
<text x="5" y="674" font-size="10.1" fill="#000" textLength="41" lengthAdjust="spacingAndGlyphs" stroke="#000" stroke-width="0.15" >1 Jul 2021</text>
<rect x="70" y="662" width="1" height="3" fill="#000" />
<text x="69" y="674" font-size="10.1" fill="#000" textLength="45" lengthAdjust="spacingAndGlyphs" stroke="#000" stroke-width="0.15" >8 Jul 10:00</text>
<rect x="134" y="662" width="1" height="3" fill="#000" />
<text x="133" y="674" font-size="10.1" fill="#000" textLength="49.3" lengthAdjust="spacingAndGlyphs" stroke="#000" stroke-width="0.15" >15 Jul 18:00</text>
<rect x="198" y="662" width="1" height="3" fill="#000" />
<text x="197" y="674" font-size="10.1" fill="#000" textLength="49.5" lengthAdjust="spacingAndGlyphs" stroke="#000" stroke-width="0.15" >23 Jul 00:00</text>
<rect x="262" y="662" width="1" height="3" fill="#000" />
<text x="261" y="674" font-size="10.1" fill="#000" textLength="49.5" lengthAdjust="spacingAndGlyphs" stroke="#000" stroke-width="0.15" >30 Jul 10:00</text>
<rect x="326" y="662" width="1" height="3" fill="#000" />
<text x="325" y="674" font-size="10.1" fill="#000" textLength="45.5" lengthAdjust="spacingAndGlyphs" stroke="#000" stroke-width="0.15" >6 Aug 18:00</text>
<rect x="390" y="662" width="1" height="3" fill="#000" />
<text x="389" y="674" font-size="10.1" fill="#000" textLength="54.8" lengthAdjust="spacingAndGlyphs" stroke="#000" stroke-width="0.15" >14 Aug 00:00</text>
<rect x="454" y="662" width="1" height="3" fill="#000" />
<text x="453" y="674" font-size="10.1" fill="#000" textLength="54.8" lengthAdjust="spacingAndGlyphs" stroke="#000" stroke-width="0.15" >23 Aug 11:00</text>
<rect x="518" y="662" width="1" height="3" fill="#000" />
<text x="517" y="674" font-size="10.1" fill="#000" textLength="54.8" lengthAdjust="spacingAndGlyphs" stroke="#000" stroke-width="0.15" >30 Aug 19:00</text>
<rect x="582" y="662" width="1" height="3" fill="#000" />
<text x="581" y="674" font-size="10.1" fill="#000" textLength="49.8" lengthAdjust="spacingAndGlyphs" stroke="#000" stroke-width="0.15" >7 Sep 00:00</text>
<rect x="646" y="662" width="1" height="3" fill="#000" />
<text x="645" y="674" font-size="10.1" fill="#000" textLength="54.8" lengthAdjust="spacingAndGlyphs" stroke="#000" stroke-width="0.15" >14 Sep 10:00</text>
<rect x="710" y="662" width="1" height="3" fill="#000" />
<text x="709" y="674" font-size="10.1" fill="#000" textLength="54.8" lengthAdjust="spacingAndGlyphs" stroke="#000" stroke-width="0.15" >21 Sep 18:00</text>
<rect x="774" y="662" width="1" height="3" fill="#000" />
<text x="773" y="674" font-size="10.1" fill="#000" textLength="54.8" lengthAdjust="spacingAndGlyphs" stroke="#000" stroke-width="0.15" >29 Sep 00:00</text>
<rect x="838" y="662" width="1" height="3" fill="#000" />
<text x="837" y="674" font-size="10.1" fill="#000" textLength="49.8" lengthAdjust="spacingAndGlyphs" stroke="#000" stroke-width="0.15" >6 Oct 10:00</text>
<rect x="902" y="662" width="1" height="3" fill="#000" />
<text x="901" y="674" font-size="10.1" fill="#000" textLength="54.5" lengthAdjust="spacingAndGlyphs" stroke="#000" stroke-width="0.15" >13 Oct 18:00</text>
<path d="M9 36.5 L12.5 32.5 L16 36.5 Z" fill="#000"/>
<text x="21.5" y="37" font-size="10.1" fill="#000" textLength="54.5" lengthAdjust="spacingAndGlyphs" stroke="#000" stroke-width="0.15" >USDCHF,H4</text>
<text x="82.5" y="37" font-size="10.1" fill="#000" textLength="32.3" lengthAdjust="spacingAndGlyphs" stroke="#000" stroke-width="0.15" >0.92404</text>
<text x="118.3" y="37" font-size="10.1" fill="#000" textLength="32.3" lengthAdjust="spacingAndGlyphs" stroke="#000" stroke-width="0.15" >0.92426</text>
<text x="154" y="37" font-size="10.1" fill="#000" textLength="32.3" lengthAdjust="spacingAndGlyphs" stroke="#000" stroke-width="0.15" >0.92272</text>
<text x="190.4" y="37" font-size="10.1" fill="#000" textLength="32.3" lengthAdjust="spacingAndGlyphs" stroke="#000" stroke-width="0.15" >0.92272</text>
<path d="M9.5 45.5H60.5V69.5H117.5V101.5H9.5Z" fill="url(#gP)" stroke="#b40000" stroke-width="1"/>
<path d="M227.5 45.5H176.5V69.5H120.5V101.5H227.5Z" fill="url(#gP)" stroke="#b40000" stroke-width="1"/>
<rect x="13" y="68" width="44" height="1" fill="#8c0000" />
<rect x="13" y="69" width="44" height="1" fill="#f07070" />
<rect x="180" y="68" width="44" height="1" fill="#8c0000" />
<rect x="180" y="69" width="44" height="1" fill="#f07070" />
<rect x="63.5" y="45.5" width="110" height="21" fill="#fff" stroke="#a8abb3" stroke-width="1"/>
<rect x="65" y="47" width="18" height="18" fill="url(#gBtn)" />
<rect x="84" y="46" width="1" height="20" fill="#a8abb3" />
<rect x="154" y="47" width="18" height="18" fill="url(#gBtn)" />
<rect x="152" y="46" width="1" height="20" fill="#a8abb3" />
<path d="M70.8 54 L76.2 54 L73.5 57.4 Z" fill="#3f55c4"/>
<path d="M159.8 57.4 L165.2 57.4 L162.5 54 Z" fill="#3f55c4"/>
<text x="148.7" y="59.8" font-size="11.5" fill="#111" textLength="23.7" lengthAdjust="spacingAndGlyphs" text-anchor="end" >3.00</text>
<text x="21" y="60.3" font-size="11.5" fill="#fff" textLength="26" lengthAdjust="spacingAndGlyphs" >SELL</text>
<text x="189.5" y="60.3" font-size="11.5" fill="#fff" textLength="23" lengthAdjust="spacingAndGlyphs" >BUY</text>
<text x="29" y="96.5" font-size="11.5" fill="#fff" textLength="24" lengthAdjust="spacingAndGlyphs" font-weight="bold" >0.92</text>
<text x="57.3" y="97.3" font-size="34.5" fill="#fff" textLength="33.5" lengthAdjust="spacingAndGlyphs" stroke="url(#gP)" stroke-width="0.55">27</text>
<text x="96" y="81" font-size="11.5" fill="#fff" font-weight="bold" >5</text>
<text x="139" y="96.5" font-size="11.5" fill="#fff" textLength="24" lengthAdjust="spacingAndGlyphs" font-weight="bold" >0.92</text>
<text x="167.8" y="97.3" font-size="34.5" fill="#fff" textLength="33.5" lengthAdjust="spacingAndGlyphs" stroke="url(#gP)" stroke-width="0.55">29</text>
<text x="206.5" y="81" font-size="11.5" fill="#fff" font-weight="bold" >0</text>
<rect x="3" y="682" width="1209" height="1" fill="#e6e6e6" />
<rect x="1" y="684" width="1211" height="1" fill="#000" />
<rect x="3" y="685" width="1209" height="1" fill="#fff" />
<rect x="3" y="686" width="1209" height="18" fill="#f0f0f0" />
<rect x="3" y="685" width="1" height="19" fill="#fff" />
<rect x="0" y="703" width="3" height="1" fill="#696969" />
<rect x="2" y="704" width="1210" height="1" fill="#fff" />
<rect x="0" y="705" width="1212" height="3" fill="#f0f0f0" />
<rect x="0" y="708" width="1212" height="1" fill="#a0a0a0" />
<rect x="0" y="709" width="1212" height="2" fill="#fafafa" />
<rect x="216" y="684" width="86" height="18" fill="#fff" />
<rect x="215" y="684" width="1" height="19" fill="#000" />
<rect x="302" y="684" width="1" height="19" fill="#000" />
<rect x="215" y="702" width="88" height="1" fill="#000" />
<rect x="303" y="686" width="1" height="18" fill="#e4e4e4" />
<rect x="216" y="703" width="88" height="1" fill="#e4e4e4" />
<text x="19.8" y="699" font-size="12.4" fill="#5c5c5c" textLength="79.2" lengthAdjust="spacingAndGlyphs" >EURUSD,Daily</text>
<text x="122" y="699" font-size="12.4" fill="#5c5c5c" textLength="82" lengthAdjust="spacingAndGlyphs" >AUDUSD,Daily</text>
<text x="225.6" y="699" font-size="12.4" fill="#000" textLength="66.4" lengthAdjust="spacingAndGlyphs" >USDCHF,H4</text>
<text x="314.3" y="699" font-size="12.4" fill="#5c5c5c" textLength="80.7" lengthAdjust="spacingAndGlyphs" >USDCAD,Daily</text>
<text x="417.6" y="699" font-size="12.4" fill="#5c5c5c" textLength="82.1" lengthAdjust="spacingAndGlyphs" >USDCNH,Daily</text>
<text x="523" y="699" font-size="12.4" fill="#5c5c5c" textLength="63.3" lengthAdjust="spacingAndGlyphs" >UKOil,Daily</text>
<text x="609.3" y="699" font-size="12.4" fill="#5c5c5c" textLength="46.8" lengthAdjust="spacingAndGlyphs" >DJ30,H1</text>
<text x="679.1" y="699" font-size="12.4" fill="#5c5c5c" textLength="52.0" lengthAdjust="spacingAndGlyphs" >USDX,H1</text>
<text x="754.1" y="699" font-size="12.4" fill="#5c5c5c" textLength="69.1" lengthAdjust="spacingAndGlyphs" >XAUUSD,H4</text>
<text x="847" y="699" font-size="12.4" fill="#5c5c5c" textLength="67.9" lengthAdjust="spacingAndGlyphs" >GBPUSD,H1</text>
<text x="938.3" y="699" font-size="12.4" fill="#5c5c5c" textLength="78.0" lengthAdjust="spacingAndGlyphs" >USDX,Weekly</text>
<rect x="111" y="687" width="1" height="14" fill="#6a6a6a" />
<rect x="407" y="687" width="1" height="14" fill="#6a6a6a" />
<rect x="511" y="687" width="1" height="14" fill="#6a6a6a" />
<rect x="599" y="687" width="1" height="14" fill="#6a6a6a" />
<rect x="667" y="687" width="1" height="14" fill="#6a6a6a" />
<rect x="743" y="687" width="1" height="14" fill="#6a6a6a" />
<rect x="835" y="687" width="1" height="14" fill="#6a6a6a" />
<rect x="927" y="687" width="1" height="14" fill="#6a6a6a" />
<rect x="1027" y="687" width="1" height="14" fill="#6a6a6a" />
<path d="M1187.5 690 L1183.5 693.5 L1187.5 697 Z" fill="#a0a0a0"/>
<path d="M1203 690 L1207 693.5 L1203 697 Z" fill="#a0a0a0"/>
</svg>
</body></html>
